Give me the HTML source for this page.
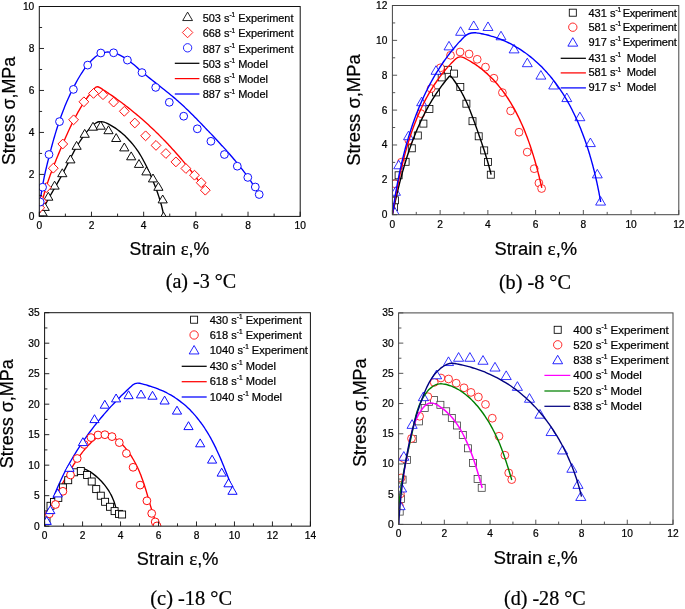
<!DOCTYPE html>
<html lang="en"><head><meta charset="utf-8"><title>Stress-strain curves</title>
<style>
html,body{margin:0;padding:0;background:#fff;}
body{width:685px;height:609px;overflow:hidden;}
svg{display:block;font-family:"Liberation Sans", Arial, Helvetica, sans-serif;}
text{stroke:#000;stroke-width:0.22px;}
</style></head><body>
<svg width="685" height="609" viewBox="0 0 685 609">
<rect width="685" height="609" fill="#fff"/>
<clipPath id="clip0"><rect x="39.3" y="6.5" width="260.9" height="209.9"/></clipPath>
<g clip-path="url(#clip0)">
<path d="M39.3,216.4 C39.51,215.95 40.15,214.58 40.58,213.67 C41.02,212.77 41.47,211.86 41.92,210.95 C42.37,210.05 42.84,209.14 43.31,208.24 C43.77,207.34 44.25,206.44 44.73,205.54 C45.22,204.63 45.71,203.73 46.2,202.84 C46.69,201.94 47.19,201.04 47.69,200.14 C48.19,199.25 48.7,198.35 49.21,197.46 C49.71,196.56 50.23,195.67 50.74,194.77 C51.25,193.88 51.76,192.99 52.28,192.1 C52.79,191.21 53.31,190.31 53.82,189.42 C54.34,188.53 54.85,187.65 55.36,186.76 C55.87,185.87 56.38,184.98 56.89,184.09 C57.4,183.21 57.9,182.32 58.4,181.43 C58.9,180.55 59.4,179.66 59.89,178.78 C60.38,177.89 60.87,177.01 61.35,176.12 C61.83,175.24 62.3,174.36 62.77,173.47 C63.24,172.59 63.7,171.71 64.15,170.82 C64.61,169.94 65.05,169.06 65.5,168.18 C65.95,167.3 66.39,166.41 66.83,165.53 C67.27,164.65 67.71,163.77 68.15,162.89 C68.59,162.01 69.03,161.13 69.47,160.25 C69.91,159.37 70.35,158.49 70.8,157.61 C71.25,156.73 71.7,155.85 72.16,154.96 C72.62,154.08 73.08,153.2 73.55,152.32 C74.03,151.44 74.5,150.56 74.99,149.68 C75.48,148.8 75.98,147.92 76.49,147.04 C77.01,146.16 77.53,145.28 78.06,144.4 C78.6,143.51 79.15,142.63 79.71,141.75 C80.28,140.87 80.86,139.99 81.46,139.1 C82.05,138.22 82.67,137.34 83.3,136.46 C83.94,135.57 84.59,134.68 85.26,133.8 C85.94,132.92 86.63,132.04 87.34,131.18 C88.05,130.32 88.78,129.46 89.53,128.65 C90.27,127.84 91.03,127.05 91.8,126.31 C92.57,125.57 93.36,124.85 94.16,124.23 C94.95,123.61 95.76,123.02 96.58,122.61 C97.39,122.2 98.22,121.93 99.05,121.77 C99.88,121.62 100.72,121.61 101.56,121.68 C102.4,121.74 103.24,121.94 104.09,122.18 C104.93,122.42 105.78,122.76 106.63,123.13 C107.48,123.5 108.32,123.94 109.17,124.39 C110.01,124.84 110.85,125.32 111.69,125.82 C112.53,126.32 113.36,126.84 114.19,127.38 C115.01,127.92 115.84,128.49 116.65,129.07 C117.47,129.66 118.28,130.26 119.08,130.88 C119.88,131.51 120.68,132.15 121.46,132.81 C122.25,133.47 123.03,134.15 123.8,134.84 C124.56,135.53 125.32,136.24 126.07,136.97 C126.82,137.7 127.55,138.44 128.28,139.19 C129,139.95 129.71,140.72 130.41,141.5 C131.11,142.28 131.8,143.08 132.47,143.89 C133.14,144.69 133.8,145.51 134.44,146.34 C135.09,147.17 135.71,148.02 136.32,148.87 C136.94,149.72 137.53,150.58 138.11,151.45 C138.69,152.31 139.25,153.19 139.8,154.08 C140.35,154.96 140.89,155.85 141.41,156.75 C141.93,157.65 142.44,158.55 142.94,159.46 C143.44,160.36 143.92,161.28 144.4,162.2 C144.88,163.11 145.34,164.03 145.8,164.96 C146.25,165.88 146.7,166.8 147.14,167.73 C147.58,168.66 148.01,169.59 148.44,170.51 C148.86,171.44 149.28,172.37 149.7,173.3 C150.11,174.22 150.52,175.15 150.92,176.08 C151.33,177 151.72,177.93 152.12,178.85 C152.51,179.77 152.9,180.7 153.28,181.62 C153.66,182.55 154.04,183.47 154.4,184.4 C154.77,185.32 155.14,186.25 155.49,187.18 C155.85,188.11 156.2,189.04 156.55,189.98 C156.89,190.91 157.23,191.85 157.55,192.79 C157.88,193.73 158.21,194.67 158.52,195.62 C158.84,196.57 159.14,197.52 159.44,198.48 C159.74,199.44 160.03,200.4 160.32,201.37 C160.6,202.33 160.87,203.31 161.14,204.29 C161.41,205.27 161.66,206.25 161.91,207.25 C162.16,208.24 162.4,209.24 162.63,210.25 C162.86,211.26 163.08,212.27 163.29,213.3 C163.51,214.32 163.8,215.88 163.9,216.4" fill="none" stroke="#000" stroke-width="1.35" stroke-linecap="butt" stroke-linejoin="round"/>
<path d="M39.3,216.4 C39.37,215.91 39.59,214.46 39.74,213.49 C39.9,212.52 40.07,211.54 40.25,210.57 C40.42,209.6 40.61,208.63 40.81,207.65 C41,206.68 41.21,205.71 41.42,204.73 C41.64,203.76 41.86,202.79 42.09,201.81 C42.32,200.84 42.56,199.87 42.81,198.89 C43.05,197.92 43.31,196.94 43.57,195.97 C43.83,195 44.1,194.02 44.38,193.05 C44.66,192.08 44.94,191.1 45.23,190.13 C45.53,189.16 45.82,188.19 46.13,187.21 C46.43,186.24 46.74,185.27 47.06,184.3 C47.38,183.33 47.7,182.36 48.03,181.39 C48.35,180.42 48.69,179.45 49.03,178.48 C49.36,177.51 49.71,176.55 50.06,175.58 C50.4,174.61 50.76,173.65 51.11,172.68 C51.47,171.72 51.83,170.75 52.2,169.79 C52.56,168.83 52.93,167.87 53.31,166.91 C53.68,165.95 54.06,164.99 54.44,164.03 C54.81,163.08 55.2,162.12 55.58,161.16 C55.97,160.21 56.36,159.26 56.75,158.31 C57.14,157.35 57.53,156.4 57.92,155.46 C58.32,154.51 58.71,153.56 59.11,152.62 C59.51,151.67 59.91,150.73 60.31,149.79 C60.71,148.85 61.11,147.91 61.51,146.97 C61.91,146.03 62.32,145.1 62.72,144.16 C63.12,143.23 63.52,142.3 63.93,141.37 C64.33,140.44 64.74,139.52 65.14,138.59 C65.55,137.67 65.96,136.75 66.36,135.83 C66.77,134.91 67.18,133.99 67.6,133.08 C68.01,132.16 68.43,131.25 68.84,130.34 C69.26,129.44 69.68,128.53 70.11,127.63 C70.54,126.72 70.96,125.82 71.4,124.92 C71.83,124.03 72.27,123.13 72.71,122.24 C73.15,121.35 73.6,120.46 74.05,119.57 C74.51,118.69 74.96,117.81 75.43,116.93 C75.89,116.05 76.36,115.17 76.84,114.3 C77.32,113.43 77.8,112.56 78.29,111.69 C78.78,110.83 79.28,109.96 79.78,109.11 C80.29,108.25 80.8,107.39 81.32,106.54 C81.84,105.69 82.37,104.84 82.91,104 C83.45,103.15 84,102.31 84.56,101.48 C85.11,100.64 85.68,99.81 86.26,98.98 C86.84,98.15 87.42,97.33 88.02,96.51 C88.62,95.69 89.23,94.87 89.85,94.06 C90.47,93.25 91.1,92.44 91.74,91.64 C92.39,90.84 93.25,89.8 93.71,89.24 C94.17,88.69 94.36,88.48 94.49,88.33 Q96.8,85.7 99.77,87.56 C100.13,87.78 101.14,88.42 101.92,88.93 C102.7,89.43 103.62,90.03 104.46,90.58 C105.3,91.13 106.15,91.69 106.99,92.25 C107.82,92.82 108.66,93.38 109.49,93.95 C110.33,94.52 111.16,95.1 111.99,95.67 C112.82,96.25 113.65,96.83 114.47,97.42 C115.29,98 116.12,98.59 116.93,99.19 C117.75,99.78 118.57,100.38 119.38,100.98 C120.2,101.58 121.01,102.18 121.82,102.79 C122.63,103.4 123.43,104.01 124.24,104.62 C125.04,105.24 125.84,105.85 126.64,106.48 C127.44,107.1 128.23,107.72 129.03,108.35 C129.82,108.98 130.61,109.62 131.4,110.25 C132.19,110.89 132.97,111.53 133.76,112.17 C134.54,112.81 135.32,113.46 136.1,114.11 C136.87,114.76 137.65,115.41 138.42,116.07 C139.19,116.72 139.96,117.38 140.73,118.05 C141.49,118.71 142.26,119.38 143.02,120.05 C143.78,120.72 144.54,121.39 145.29,122.06 C146.05,122.74 146.8,123.42 147.55,124.1 C148.3,124.78 149.05,125.47 149.79,126.16 C150.54,126.85 151.28,127.54 152.02,128.23 C152.76,128.93 153.49,129.62 154.23,130.32 C154.96,131.03 155.69,131.73 156.42,132.44 C157.14,133.14 157.87,133.85 158.59,134.56 C159.31,135.28 160.03,135.99 160.75,136.71 C161.46,137.43 162.17,138.15 162.88,138.87 C163.59,139.6 164.3,140.32 165.01,141.05 C165.71,141.78 166.41,142.51 167.11,143.25 C167.81,143.98 168.5,144.72 169.2,145.46 C169.89,146.2 170.58,146.94 171.26,147.69 C171.95,148.43 172.63,149.18 173.31,149.93 C173.99,150.68 174.67,151.44 175.35,152.19 C176.02,152.95 176.69,153.7 177.36,154.47 C178.03,155.23 178.69,155.99 179.35,156.75 C180.02,157.52 180.68,158.29 181.33,159.06 C181.99,159.83 182.64,160.6 183.29,161.38 C183.94,162.15 184.59,162.93 185.23,163.71 C185.87,164.49 186.51,165.27 187.15,166.05 C187.79,166.84 188.42,167.62 189.05,168.41 C189.68,169.2 190.31,169.99 190.94,170.78 C191.56,171.58 192.18,172.37 192.8,173.17 C193.42,173.97 194.03,174.77 194.64,175.57 C195.26,176.37 195.86,177.17 196.47,177.98 C197.07,178.78 197.68,179.59 198.27,180.4 C198.87,181.21 199.47,182.02 200.06,182.83 C200.65,183.65 201.24,184.46 201.83,185.28 C202.41,186.09 202.99,186.91 203.57,187.73 C204.15,188.55 205.01,189.79 205.3,190.2" fill="none" stroke="#f00" stroke-width="1.35" stroke-linecap="butt" stroke-linejoin="round"/>
<path d="M39.3,216.4 C39.31,215.9 39.34,214.42 39.38,213.42 C39.42,212.43 39.46,211.43 39.52,210.43 C39.58,209.43 39.64,208.43 39.72,207.43 C39.79,206.43 39.88,205.43 39.97,204.42 C40.06,203.42 40.16,202.41 40.27,201.41 C40.38,200.4 40.49,199.4 40.62,198.39 C40.74,197.38 40.88,196.37 41.02,195.37 C41.15,194.36 41.3,193.35 41.45,192.34 C41.61,191.33 41.77,190.32 41.93,189.31 C42.1,188.31 42.27,187.3 42.45,186.29 C42.63,185.28 42.81,184.27 43,183.26 C43.19,182.26 43.39,181.25 43.59,180.24 C43.79,179.24 43.99,178.23 44.2,177.23 C44.41,176.22 44.63,175.22 44.84,174.22 C45.06,173.22 45.28,172.22 45.51,171.22 C45.73,170.22 45.96,169.22 46.2,168.22 C46.43,167.23 46.66,166.23 46.9,165.24 C47.14,164.25 47.38,163.26 47.62,162.27 C47.87,161.28 48.11,160.3 48.36,159.31 C48.6,158.33 48.85,157.35 49.1,156.37 C49.35,155.39 49.6,154.42 49.86,153.45 C50.11,152.47 50.36,151.5 50.62,150.54 C50.87,149.57 51.13,148.61 51.39,147.64 C51.64,146.68 51.9,145.72 52.17,144.77 C52.43,143.81 52.69,142.85 52.96,141.9 C53.22,140.95 53.49,140 53.76,139.05 C54.04,138.1 54.31,137.15 54.59,136.21 C54.86,135.26 55.14,134.32 55.43,133.37 C55.71,132.43 56,131.49 56.29,130.55 C56.58,129.61 56.87,128.67 57.17,127.74 C57.47,126.8 57.77,125.86 58.08,124.93 C58.39,123.99 58.7,123.06 59.01,122.12 C59.33,121.19 59.65,120.26 59.98,119.32 C60.3,118.39 60.63,117.46 60.97,116.53 C61.3,115.6 61.65,114.67 61.99,113.73 C62.34,112.8 62.69,111.87 63.05,110.94 C63.41,110.01 63.77,109.08 64.14,108.15 C64.51,107.22 64.89,106.28 65.28,105.35 C65.66,104.42 66.05,103.49 66.45,102.55 C66.84,101.62 67.25,100.69 67.66,99.75 C68.07,98.82 68.49,97.88 68.92,96.94 C69.34,96.01 69.78,95.07 70.22,94.13 C70.66,93.19 71.11,92.25 71.57,91.31 C72.03,90.37 72.49,89.43 72.97,88.48 C73.44,87.54 73.93,86.59 74.42,85.65 C74.91,84.7 75.41,83.76 75.92,82.82 C76.44,81.88 76.96,80.94 77.48,80.01 C78.01,79.08 78.55,78.15 79.1,77.24 C79.65,76.32 80.21,75.4 80.78,74.5 C81.35,73.6 81.93,72.71 82.52,71.83 C83.11,70.94 83.71,70.07 84.32,69.22 C84.93,68.36 85.55,67.52 86.18,66.69 C86.82,65.86 87.46,65.05 88.12,64.25 C88.77,63.46 89.44,62.68 90.12,61.93 C90.8,61.18 91.49,60.45 92.2,59.75 C92.9,59.06 93.62,58.39 94.35,57.76 C95.08,57.14 95.83,56.55 96.59,56 C97.35,55.46 98.12,54.96 98.91,54.51 C99.7,54.07 100.5,53.67 101.32,53.34 C102.14,53 102.97,52.72 103.83,52.51 C104.68,52.3 105.55,52.15 106.43,52.07 C107.31,52 108.22,52 109.13,52.06 C110.04,52.12 110.97,52.25 111.9,52.43 C112.82,52.61 113.76,52.85 114.7,53.14 C115.63,53.43 116.57,53.78 117.51,54.16 C118.44,54.54 119.37,54.98 120.3,55.44 C121.22,55.9 122.15,56.41 123.05,56.94 C123.96,57.47 124.86,58.03 125.75,58.61 C126.63,59.19 127.5,59.8 128.36,60.42 C129.21,61.04 130.05,61.68 130.88,62.32 C131.71,62.97 132.53,63.64 133.34,64.31 C134.15,64.98 134.95,65.66 135.75,66.34 C136.54,67.02 137.33,67.71 138.12,68.4 C138.91,69.09 139.69,69.78 140.47,70.46 C141.26,71.14 142.04,71.82 142.82,72.49 C143.61,73.16 144.39,73.82 145.18,74.48 C145.96,75.14 146.75,75.79 147.54,76.44 C148.33,77.09 149.12,77.73 149.91,78.37 C150.7,79.01 151.49,79.64 152.28,80.27 C153.07,80.9 153.86,81.53 154.65,82.15 C155.43,82.78 156.22,83.4 157.01,84.02 C157.8,84.64 158.59,85.26 159.38,85.88 C160.16,86.5 160.95,87.11 161.73,87.73 C162.52,88.35 163.3,88.97 164.09,89.58 C164.87,90.2 165.65,90.82 166.43,91.45 C167.2,92.07 167.98,92.69 168.76,93.32 C169.53,93.94 170.3,94.57 171.07,95.21 C171.84,95.84 172.61,96.48 173.37,97.12 C174.14,97.76 174.9,98.4 175.66,99.06 C176.41,99.71 177.17,100.36 177.92,101.02 C178.67,101.69 179.42,102.35 180.17,103.03 C180.91,103.7 181.65,104.38 182.39,105.06 C183.13,105.74 183.87,106.43 184.61,107.12 C185.34,107.81 186.07,108.51 186.8,109.21 C187.53,109.9 188.26,110.61 188.98,111.31 C189.71,112.02 190.43,112.73 191.15,113.44 C191.87,114.15 192.59,114.87 193.31,115.59 C194.02,116.31 194.74,117.03 195.45,117.75 C196.16,118.47 196.88,119.2 197.59,119.92 C198.3,120.65 199.01,121.38 199.71,122.11 C200.42,122.84 201.13,123.57 201.83,124.3 C202.54,125.03 203.24,125.77 203.95,126.5 C204.65,127.23 205.35,127.97 206.05,128.7 C206.76,129.44 207.46,130.17 208.16,130.91 C208.86,131.64 209.56,132.38 210.26,133.11 C210.96,133.84 211.66,134.58 212.35,135.32 C213.05,136.05 213.75,136.79 214.44,137.52 C215.14,138.26 215.83,139 216.52,139.74 C217.21,140.48 217.9,141.21 218.59,141.96 C219.28,142.7 219.97,143.44 220.65,144.18 C221.34,144.92 222.02,145.67 222.7,146.41 C223.38,147.16 224.06,147.91 224.73,148.65 C225.41,149.4 226.08,150.15 226.75,150.91 C227.42,151.66 228.09,152.41 228.76,153.17 C229.42,153.93 230.09,154.68 230.75,155.44 C231.4,156.21 232.06,156.97 232.71,157.73 C233.37,158.5 234.02,159.27 234.66,160.04 C235.31,160.81 235.95,161.58 236.59,162.36 C237.23,163.13 237.87,163.91 238.5,164.69 C239.13,165.48 239.76,166.26 240.38,167.05 C241.01,167.84 241.63,168.63 242.24,169.42 C242.86,170.22 243.47,171.02 244.08,171.82 C244.68,172.62 245.28,173.43 245.88,174.24 C246.48,175.05 247.07,175.86 247.66,176.68 C248.25,177.49 248.83,178.32 249.41,179.14 C249.98,179.97 250.56,180.8 251.12,181.63 C251.69,182.47 252.25,183.3 252.81,184.15 C253.36,184.99 253.92,185.84 254.46,186.69 C255,187.54 255.54,188.4 256.08,189.26 C256.61,190.13 257.14,190.99 257.66,191.87 C258.18,192.74 258.94,194.06 259.2,194.5" fill="none" stroke="#00f" stroke-width="1.35" stroke-linecap="butt" stroke-linejoin="round"/>
<path d="M42.6,208 L47.2,215.9 L38,215.9 Z" fill="#fff" stroke="#000" stroke-width="0.95" stroke-linejoin="miter"/>
<path d="M44.7,202.5 L49.3,210.4 L40.1,210.4 Z" fill="#fff" stroke="#000" stroke-width="0.95" stroke-linejoin="miter"/>
<path d="M48.3,192.3 L52.9,200.2 L43.7,200.2 Z" fill="#fff" stroke="#000" stroke-width="0.95" stroke-linejoin="miter"/>
<path d="M54.6,181.2 L59.2,189.1 L50,189.1 Z" fill="#fff" stroke="#000" stroke-width="0.95" stroke-linejoin="miter"/>
<path d="M62.3,168.8 L66.9,176.7 L57.7,176.7 Z" fill="#fff" stroke="#000" stroke-width="0.95" stroke-linejoin="miter"/>
<path d="M70.4,155 L75,162.9 L65.8,162.9 Z" fill="#fff" stroke="#000" stroke-width="0.95" stroke-linejoin="miter"/>
<path d="M76.6,141.4 L81.2,149.3 L72,149.3 Z" fill="#fff" stroke="#000" stroke-width="0.95" stroke-linejoin="miter"/>
<path d="M84.7,129.4 L89.3,137.3 L80.1,137.3 Z" fill="#fff" stroke="#000" stroke-width="0.95" stroke-linejoin="miter"/>
<path d="M93,122.3 L97.6,130.2 L88.4,130.2 Z" fill="#fff" stroke="#000" stroke-width="0.95" stroke-linejoin="miter"/>
<path d="M100.7,121.3 L105.3,129.2 L96.1,129.2 Z" fill="#fff" stroke="#000" stroke-width="0.95" stroke-linejoin="miter"/>
<path d="M108.5,125.8 L113.1,133.7 L103.9,133.7 Z" fill="#fff" stroke="#000" stroke-width="0.95" stroke-linejoin="miter"/>
<path d="M116.2,133.6 L120.8,141.5 L111.6,141.5 Z" fill="#fff" stroke="#000" stroke-width="0.95" stroke-linejoin="miter"/>
<path d="M124.3,143 L128.9,150.9 L119.7,150.9 Z" fill="#fff" stroke="#000" stroke-width="0.95" stroke-linejoin="miter"/>
<path d="M131.2,151.9 L135.8,159.8 L126.6,159.8 Z" fill="#fff" stroke="#000" stroke-width="0.95" stroke-linejoin="miter"/>
<path d="M139,159.5 L143.6,167.4 L134.4,167.4 Z" fill="#fff" stroke="#000" stroke-width="0.95" stroke-linejoin="miter"/>
<path d="M146.4,167 L151,174.9 L141.8,174.9 Z" fill="#fff" stroke="#000" stroke-width="0.95" stroke-linejoin="miter"/>
<path d="M153,174 L157.6,181.9 L148.4,181.9 Z" fill="#fff" stroke="#000" stroke-width="0.95" stroke-linejoin="miter"/>
<path d="M158.4,182.4 L163,190.3 L153.8,190.3 Z" fill="#fff" stroke="#000" stroke-width="0.95" stroke-linejoin="miter"/>
<path d="M162.7,195 L167.3,202.9 L158.1,202.9 Z" fill="#fff" stroke="#000" stroke-width="0.95" stroke-linejoin="miter"/>
<path d="M163.5,212.1 L168.1,220 L158.9,220 Z" fill="#fff" stroke="#000" stroke-width="0.95" stroke-linejoin="miter"/>
<path d="M39.7,202.9 L44.6,207.8 L39.7,212.7 L34.8,207.8 Z" fill="#fff" stroke="#f00" stroke-width="0.95"/>
<path d="M41.8,196.3 L46.7,201.2 L41.8,206.1 L36.9,201.2 Z" fill="#fff" stroke="#f00" stroke-width="0.95"/>
<path d="M46.3,182.7 L51.2,187.6 L46.3,192.5 L41.4,187.6 Z" fill="#fff" stroke="#f00" stroke-width="0.95"/>
<path d="M53.3,163.3 L58.2,168.2 L53.3,173.1 L48.4,168.2 Z" fill="#fff" stroke="#f00" stroke-width="0.95"/>
<path d="M62.8,139.1 L67.7,144 L62.8,148.9 L57.9,144 Z" fill="#fff" stroke="#f00" stroke-width="0.95"/>
<path d="M73.6,114.9 L78.5,119.8 L73.6,124.7 L68.7,119.8 Z" fill="#fff" stroke="#f00" stroke-width="0.95"/>
<path d="M83.9,96.9 L88.8,101.8 L83.9,106.7 L79,101.8 Z" fill="#fff" stroke="#f00" stroke-width="0.95"/>
<path d="M93.5,88.5 L98.4,93.4 L93.5,98.3 L88.6,93.4 Z" fill="#fff" stroke="#f00" stroke-width="0.95"/>
<path d="M103,89.8 L107.9,94.7 L103,99.6 L98.1,94.7 Z" fill="#fff" stroke="#f00" stroke-width="0.95"/>
<path d="M113.6,97.2 L118.5,102.1 L113.6,107 L108.7,102.1 Z" fill="#fff" stroke="#f00" stroke-width="0.95"/>
<path d="M124.3,106.4 L129.2,111.3 L124.3,116.2 L119.4,111.3 Z" fill="#fff" stroke="#f00" stroke-width="0.95"/>
<path d="M134.8,118.1 L139.7,123 L134.8,127.9 L129.9,123 Z" fill="#fff" stroke="#f00" stroke-width="0.95"/>
<path d="M145.6,130.9 L150.5,135.8 L145.6,140.7 L140.7,135.8 Z" fill="#fff" stroke="#f00" stroke-width="0.95"/>
<path d="M156,140.5 L160.9,145.4 L156,150.3 L151.1,145.4 Z" fill="#fff" stroke="#f00" stroke-width="0.95"/>
<path d="M165.9,148.6 L170.8,153.5 L165.9,158.4 L161,153.5 Z" fill="#fff" stroke="#f00" stroke-width="0.95"/>
<path d="M175.9,157 L180.8,161.9 L175.9,166.8 L171,161.9 Z" fill="#fff" stroke="#f00" stroke-width="0.95"/>
<path d="M185.9,163.6 L190.8,168.5 L185.9,173.4 L181,168.5 Z" fill="#fff" stroke="#f00" stroke-width="0.95"/>
<path d="M194.5,170.3 L199.4,175.2 L194.5,180.1 L189.6,175.2 Z" fill="#fff" stroke="#f00" stroke-width="0.95"/>
<path d="M201.2,177.8 L206.1,182.7 L201.2,187.6 L196.3,182.7 Z" fill="#fff" stroke="#f00" stroke-width="0.95"/>
<path d="M205.3,185.3 L210.2,190.2 L205.3,195.1 L200.4,190.2 Z" fill="#fff" stroke="#f00" stroke-width="0.95"/>
<circle cx="40.2" cy="202" r="3.9" fill="#fff" stroke="#00f" stroke-width="0.95"/>
<circle cx="42.6" cy="187.2" r="3.9" fill="#fff" stroke="#00f" stroke-width="0.95"/>
<circle cx="49" cy="154.5" r="3.9" fill="#fff" stroke="#00f" stroke-width="0.95"/>
<circle cx="59.5" cy="121.6" r="3.9" fill="#fff" stroke="#00f" stroke-width="0.95"/>
<circle cx="73.4" cy="89.4" r="3.9" fill="#fff" stroke="#00f" stroke-width="0.95"/>
<circle cx="87.7" cy="65.1" r="3.9" fill="#fff" stroke="#00f" stroke-width="0.95"/>
<circle cx="100.8" cy="53" r="3.9" fill="#fff" stroke="#00f" stroke-width="0.95"/>
<circle cx="113.6" cy="52.8" r="3.9" fill="#fff" stroke="#00f" stroke-width="0.95"/>
<circle cx="127.4" cy="60.1" r="3.9" fill="#fff" stroke="#00f" stroke-width="0.95"/>
<circle cx="142" cy="72.6" r="3.9" fill="#fff" stroke="#00f" stroke-width="0.95"/>
<circle cx="155.7" cy="87.4" r="3.9" fill="#fff" stroke="#00f" stroke-width="0.95"/>
<circle cx="169.3" cy="102.3" r="3.9" fill="#fff" stroke="#00f" stroke-width="0.95"/>
<circle cx="183.7" cy="116.2" r="3.9" fill="#fff" stroke="#00f" stroke-width="0.95"/>
<circle cx="197.3" cy="128.8" r="3.9" fill="#fff" stroke="#00f" stroke-width="0.95"/>
<circle cx="210.9" cy="141.3" r="3.9" fill="#fff" stroke="#00f" stroke-width="0.95"/>
<circle cx="224.4" cy="154.5" r="3.9" fill="#fff" stroke="#00f" stroke-width="0.95"/>
<circle cx="237.3" cy="166.2" r="3.9" fill="#fff" stroke="#00f" stroke-width="0.95"/>
<circle cx="247.8" cy="177.4" r="3.9" fill="#fff" stroke="#00f" stroke-width="0.95"/>
<circle cx="255.3" cy="187" r="3.9" fill="#fff" stroke="#00f" stroke-width="0.95"/>
<circle cx="259.2" cy="194.5" r="3.9" fill="#fff" stroke="#00f" stroke-width="0.95"/>
</g>
<rect x="39.3" y="6.5" width="260.9" height="209.9" fill="none" stroke="#111" stroke-width="1"/>
<path d="M39.3,216.4 v-4.7 M65.39,216.4 v-2.8 M91.48,216.4 v-4.7 M117.57,216.4 v-2.8 M143.66,216.4 v-4.7 M169.75,216.4 v-2.8 M195.84,216.4 v-4.7 M221.93,216.4 v-2.8 M248.02,216.4 v-4.7 M274.11,216.4 v-2.8 M300.2,216.4 v-4.7 M39.3,216.4 h4.7 M39.3,195.41 h2.8 M39.3,174.42 h4.7 M39.3,153.43 h2.8 M39.3,132.44 h4.7 M39.3,111.45 h2.8 M39.3,90.46 h4.7 M39.3,69.47 h2.8 M39.3,48.48 h4.7 M39.3,27.49 h2.8 M39.3,6.5 h4.7" stroke="#111" stroke-width="0.9" fill="none"/>
<g font-size="10.2" fill="#000">
<text x="39.3" y="229.3" text-anchor="middle">0</text>
<text x="91.48" y="229.3" text-anchor="middle">2</text>
<text x="143.66" y="229.3" text-anchor="middle">4</text>
<text x="195.84" y="229.3" text-anchor="middle">6</text>
<text x="248.02" y="229.3" text-anchor="middle">8</text>
<text x="300.2" y="229.3" text-anchor="middle">10</text>
<text x="34.3" y="219.8" text-anchor="end">0</text>
<text x="34.3" y="177.82" text-anchor="end">2</text>
<text x="34.3" y="135.84" text-anchor="end">4</text>
<text x="34.3" y="93.86" text-anchor="end">6</text>
<text x="34.3" y="51.88" text-anchor="end">8</text>
<text x="34.3" y="9.9" text-anchor="end">10</text>
</g>
<text x="169.4" y="254.6" font-size="17.7" text-anchor="middle">Strain <tspan font-family='"Liberation Serif", "Times New Roman", serif' font-size="18.59">ε</tspan>,%</text>
<text transform="translate(15.2,111) rotate(-90)" font-size="17.85" text-anchor="middle">Stress σ,MPa</text>
<text x="201" y="288.4" font-size="20.1" font-family='"Liberation Serif", "Times New Roman", serif' text-anchor="middle">(a) -3 °C</text>
<g fill="#000">
<path d="M187.6,12.1 L192.52,20.55 L182.68,20.55 Z" fill="#fff" stroke="#000" stroke-width="0.85" stroke-linejoin="miter"/>
<text x="202.7" y="21.54" font-size="10.95">503 s<tspan dy="-4.82" font-size="6.35">-1</tspan><tspan dy="4.82"> Experiment</tspan></text>
<path d="M187.6,27.26 L192.84,32.5 L187.6,37.74 L182.36,32.5 Z" fill="#fff" stroke="#f00" stroke-width="0.85"/>
<text x="202.7" y="37.34" font-size="10.95">668 s<tspan dy="-4.82" font-size="6.35">-1</tspan><tspan dy="4.82"> Experiment</tspan></text>
<circle cx="187.6" cy="47.8" r="4.17" fill="#fff" stroke="#00f" stroke-width="0.85"/>
<text x="202.7" y="52.64" font-size="10.95">887 s<tspan dy="-4.82" font-size="6.35">-1</tspan><tspan dy="4.82"> Experiment</tspan></text>
<path d="M174.8,63.3 H199.4" stroke="#000" stroke-width="1.25"/>
<text x="202.7" y="67.74" font-size="10.95">503 s<tspan dy="-4.82" font-size="6.35">-1</tspan><tspan dy="4.82"> Model</tspan></text>
<path d="M174.8,78.6 H199.4" stroke="#f00" stroke-width="1.25"/>
<text x="202.7" y="83.04" font-size="10.95">668 s<tspan dy="-4.82" font-size="6.35">-1</tspan><tspan dy="4.82"> Model</tspan></text>
<path d="M174.8,94 H199.4" stroke="#00f" stroke-width="1.25"/>
<text x="202.7" y="98.44" font-size="10.95">887 s<tspan dy="-4.82" font-size="6.35">-1</tspan><tspan dy="4.82"> Model</tspan></text>
</g>
<clipPath id="clip1"><rect x="392.4" y="5.5" width="286.4" height="209.2"/></clipPath>
<g clip-path="url(#clip1)">
<rect x="390.6" y="203.4" width="7" height="7" fill="#fff" stroke="#000" stroke-width="0.8"/>
<rect x="391.4" y="196.8" width="7" height="7" fill="#fff" stroke="#000" stroke-width="0.8"/>
<rect x="395.1" y="171.8" width="7" height="7" fill="#fff" stroke="#000" stroke-width="0.8"/>
<rect x="402.1" y="158.3" width="7" height="7" fill="#fff" stroke="#000" stroke-width="0.8"/>
<rect x="408.3" y="144.8" width="7" height="7" fill="#fff" stroke="#000" stroke-width="0.8"/>
<rect x="414.3" y="132" width="7" height="7" fill="#fff" stroke="#000" stroke-width="0.8"/>
<rect x="419.9" y="120.1" width="7" height="7" fill="#fff" stroke="#000" stroke-width="0.8"/>
<rect x="425.9" y="105.4" width="7" height="7" fill="#fff" stroke="#000" stroke-width="0.8"/>
<rect x="432.5" y="88.9" width="7" height="7" fill="#fff" stroke="#000" stroke-width="0.8"/>
<rect x="438.2" y="73.9" width="7" height="7" fill="#fff" stroke="#000" stroke-width="0.8"/>
<rect x="444.5" y="66.3" width="7" height="7" fill="#fff" stroke="#000" stroke-width="0.8"/>
<rect x="450.5" y="70.1" width="7" height="7" fill="#fff" stroke="#000" stroke-width="0.8"/>
<rect x="456.8" y="83.5" width="7" height="7" fill="#fff" stroke="#000" stroke-width="0.8"/>
<rect x="462.9" y="100.2" width="7" height="7" fill="#fff" stroke="#000" stroke-width="0.8"/>
<rect x="469" y="117.7" width="7" height="7" fill="#fff" stroke="#000" stroke-width="0.8"/>
<rect x="475.2" y="132.8" width="7" height="7" fill="#fff" stroke="#000" stroke-width="0.8"/>
<rect x="480.7" y="146.9" width="7" height="7" fill="#fff" stroke="#000" stroke-width="0.8"/>
<rect x="484.5" y="158.4" width="7" height="7" fill="#fff" stroke="#000" stroke-width="0.8"/>
<rect x="487.3" y="171.2" width="7" height="7" fill="#fff" stroke="#000" stroke-width="0.8"/>
<circle cx="394.9" cy="183.8" r="3.9" fill="#fff" stroke="#f00" stroke-width="0.8"/>
<circle cx="401.4" cy="162.2" r="3.9" fill="#fff" stroke="#f00" stroke-width="0.8"/>
<circle cx="408.8" cy="140.2" r="3.9" fill="#fff" stroke="#f00" stroke-width="0.8"/>
<circle cx="420.9" cy="113.6" r="3.9" fill="#fff" stroke="#f00" stroke-width="0.8"/>
<circle cx="431.1" cy="88.6" r="3.9" fill="#fff" stroke="#f00" stroke-width="0.8"/>
<circle cx="440.5" cy="67.8" r="3.9" fill="#fff" stroke="#f00" stroke-width="0.8"/>
<circle cx="450.5" cy="55.3" r="3.9" fill="#fff" stroke="#f00" stroke-width="0.8"/>
<circle cx="460.1" cy="52" r="3.9" fill="#fff" stroke="#f00" stroke-width="0.8"/>
<circle cx="469.1" cy="54" r="3.9" fill="#fff" stroke="#f00" stroke-width="0.8"/>
<circle cx="477.2" cy="59.3" r="3.9" fill="#fff" stroke="#f00" stroke-width="0.8"/>
<circle cx="485.5" cy="67.1" r="3.9" fill="#fff" stroke="#f00" stroke-width="0.8"/>
<circle cx="493.9" cy="78.2" r="3.9" fill="#fff" stroke="#f00" stroke-width="0.8"/>
<circle cx="502.4" cy="92.6" r="3.9" fill="#fff" stroke="#f00" stroke-width="0.8"/>
<circle cx="510.6" cy="110.9" r="3.9" fill="#fff" stroke="#f00" stroke-width="0.8"/>
<circle cx="519" cy="132.2" r="3.9" fill="#fff" stroke="#f00" stroke-width="0.8"/>
<circle cx="527.2" cy="152.1" r="3.9" fill="#fff" stroke="#f00" stroke-width="0.8"/>
<circle cx="534.2" cy="168.7" r="3.9" fill="#fff" stroke="#f00" stroke-width="0.8"/>
<circle cx="538.9" cy="183" r="3.9" fill="#fff" stroke="#f00" stroke-width="0.8"/>
<circle cx="541.6" cy="188.5" r="3.9" fill="#fff" stroke="#f00" stroke-width="0.8"/>
<path d="M394.9,207.46 L399.87,215.99 L389.93,215.99 Z" fill="#fff" stroke="#00f" stroke-width="0.8" stroke-linejoin="miter"/>
<path d="M395.5,186.76 L400.47,195.29 L390.53,195.29 Z" fill="#fff" stroke="#00f" stroke-width="0.8" stroke-linejoin="miter"/>
<path d="M398.7,160.26 L403.67,168.79 L393.73,168.79 Z" fill="#fff" stroke="#00f" stroke-width="0.8" stroke-linejoin="miter"/>
<path d="M408.5,131.16 L413.47,139.69 L403.53,139.69 Z" fill="#fff" stroke="#00f" stroke-width="0.8" stroke-linejoin="miter"/>
<path d="M421.6,97.16 L426.57,105.69 L416.63,105.69 Z" fill="#fff" stroke="#00f" stroke-width="0.8" stroke-linejoin="miter"/>
<path d="M436,65.76 L440.97,74.29 L431.03,74.29 Z" fill="#fff" stroke="#00f" stroke-width="0.8" stroke-linejoin="miter"/>
<path d="M449,41.36 L453.97,49.89 L444.03,49.89 Z" fill="#fff" stroke="#00f" stroke-width="0.8" stroke-linejoin="miter"/>
<path d="M460.6,26.76 L465.57,35.29 L455.63,35.29 Z" fill="#fff" stroke="#00f" stroke-width="0.8" stroke-linejoin="miter"/>
<path d="M473.7,20.96 L478.67,29.49 L468.73,29.49 Z" fill="#fff" stroke="#00f" stroke-width="0.8" stroke-linejoin="miter"/>
<path d="M488,21.96 L492.97,30.49 L483.03,30.49 Z" fill="#fff" stroke="#00f" stroke-width="0.8" stroke-linejoin="miter"/>
<path d="M501,31.26 L505.97,39.79 L496.03,39.79 Z" fill="#fff" stroke="#00f" stroke-width="0.8" stroke-linejoin="miter"/>
<path d="M514.1,44.36 L519.07,52.89 L509.13,52.89 Z" fill="#fff" stroke="#00f" stroke-width="0.8" stroke-linejoin="miter"/>
<path d="M527.3,58.16 L532.27,66.69 L522.33,66.69 Z" fill="#fff" stroke="#00f" stroke-width="0.8" stroke-linejoin="miter"/>
<path d="M540.9,70.56 L545.87,79.09 L535.93,79.09 Z" fill="#fff" stroke="#00f" stroke-width="0.8" stroke-linejoin="miter"/>
<path d="M553.7,80.46 L558.67,88.99 L548.73,88.99 Z" fill="#fff" stroke="#00f" stroke-width="0.8" stroke-linejoin="miter"/>
<path d="M566.8,93.06 L571.77,101.59 L561.83,101.59 Z" fill="#fff" stroke="#00f" stroke-width="0.8" stroke-linejoin="miter"/>
<path d="M579.9,112.16 L584.87,120.69 L574.93,120.69 Z" fill="#fff" stroke="#00f" stroke-width="0.8" stroke-linejoin="miter"/>
<path d="M590.4,138.06 L595.37,146.59 L585.43,146.59 Z" fill="#fff" stroke="#00f" stroke-width="0.8" stroke-linejoin="miter"/>
<path d="M597.3,169.36 L602.27,177.89 L592.33,177.89 Z" fill="#fff" stroke="#00f" stroke-width="0.8" stroke-linejoin="miter"/>
<path d="M600.6,196.56 L605.57,205.09 L595.63,205.09 Z" fill="#fff" stroke="#00f" stroke-width="0.8" stroke-linejoin="miter"/>
<path d="M392.4,214.7 C392.5,214.21 392.81,212.74 393.02,211.76 C393.22,210.78 393.43,209.79 393.64,208.81 C393.85,207.83 394.06,206.84 394.28,205.86 C394.49,204.87 394.71,203.88 394.93,202.9 C395.14,201.91 395.36,200.92 395.59,199.94 C395.81,198.95 396.03,197.96 396.26,196.97 C396.48,195.98 396.71,194.99 396.94,194 C397.17,193.01 397.41,192.02 397.64,191.04 C397.88,190.05 398.12,189.06 398.36,188.07 C398.6,187.08 398.84,186.09 399.09,185.1 C399.34,184.11 399.58,183.12 399.84,182.13 C400.09,181.14 400.34,180.15 400.6,179.16 C400.86,178.18 401.12,177.19 401.38,176.2 C401.65,175.21 401.92,174.23 402.19,173.24 C402.46,172.25 402.73,171.27 403.01,170.28 C403.28,169.3 403.57,168.32 403.85,167.33 C404.13,166.35 404.42,165.37 404.71,164.39 C405,163.41 405.3,162.43 405.6,161.45 C405.9,160.47 406.2,159.49 406.5,158.52 C406.81,157.54 407.12,156.57 407.44,155.59 C407.75,154.62 408.07,153.65 408.39,152.68 C408.71,151.71 409.04,150.74 409.37,149.77 C409.7,148.8 410.04,147.84 410.38,146.87 C410.72,145.91 411.06,144.95 411.41,143.99 C411.76,143.03 412.11,142.07 412.47,141.12 C412.83,140.16 413.19,139.21 413.56,138.26 C413.93,137.31 414.3,136.36 414.68,135.41 C415.05,134.46 415.44,133.52 415.82,132.58 C416.21,131.64 416.6,130.7 417,129.76 C417.4,128.82 417.8,127.89 418.21,126.96 C418.62,126.03 419.03,125.1 419.45,124.17 C419.87,123.25 420.29,122.32 420.72,121.4 C421.15,120.48 421.59,119.57 422.03,118.65 C422.47,117.74 422.92,116.83 423.37,115.92 C423.82,115.01 424.28,114.11 424.74,113.21 C425.21,112.31 425.68,111.41 426.15,110.52 C426.63,109.62 427.11,108.73 427.6,107.85 C428.09,106.96 428.59,106.08 429.09,105.2 C429.59,104.32 430.1,103.44 430.61,102.57 C431.13,101.7 431.65,100.83 432.17,99.97 C432.7,99.1 433.23,98.24 433.77,97.39 C434.32,96.53 434.86,95.68 435.42,94.84 C435.97,93.99 436.53,93.15 437.1,92.31 C437.67,91.47 438.24,90.64 438.83,89.81 C439.41,88.98 440,88.15 440.59,87.33 C441.19,86.51 441.79,85.7 442.4,84.89 C443.02,84.08 443.63,83.27 444.26,82.47 C444.89,81.67 445.52,80.87 446.16,80.08 C446.8,79.29 447.61,78.32 448.11,77.73 C448.6,77.13 448.95,76.73 449.12,76.53 Q450.1,75.4 451.05,76.56 C451.22,76.77 451.57,77.19 452.05,77.81 C452.52,78.42 453.3,79.43 453.91,80.25 C454.51,81.07 455.1,81.9 455.67,82.74 C456.25,83.57 456.81,84.41 457.35,85.26 C457.9,86.1 458.44,86.96 458.96,87.81 C459.48,88.67 459.99,89.54 460.49,90.41 C460.99,91.27 461.47,92.15 461.95,93.03 C462.43,93.91 462.89,94.79 463.35,95.68 C463.81,96.57 464.25,97.47 464.69,98.37 C465.13,99.27 465.55,100.17 465.97,101.08 C466.4,101.99 466.81,102.9 467.21,103.82 C467.62,104.73 468.01,105.65 468.41,106.58 C468.8,107.5 469.18,108.43 469.56,109.36 C469.94,110.29 470.31,111.23 470.68,112.17 C471.05,113.11 471.42,114.05 471.78,114.99 C472.14,115.94 472.49,116.88 472.85,117.83 C473.2,118.79 473.55,119.74 473.9,120.69 C474.25,121.65 474.59,122.61 474.94,123.57 C475.28,124.53 475.63,125.49 475.97,126.46 C476.31,127.42 476.65,128.39 477,129.36 C477.34,130.32 477.68,131.29 478.02,132.27 C478.36,133.24 478.7,134.21 479.04,135.18 C479.38,136.16 479.72,137.13 480.06,138.11 C480.39,139.08 480.73,140.06 481.06,141.04 C481.39,142.02 481.73,142.99 482.05,143.97 C482.38,144.95 482.71,145.93 483.03,146.91 C483.36,147.89 483.68,148.87 483.99,149.84 C484.31,150.82 484.62,151.8 484.93,152.78 C485.24,153.76 485.55,154.74 485.85,155.71 C486.16,156.69 486.45,157.67 486.75,158.64 C487.04,159.62 487.33,160.59 487.61,161.56 C487.9,162.54 488.18,163.51 488.45,164.48 C488.72,165.45 488.99,166.42 489.25,167.38 C489.51,168.35 489.77,169.32 490.02,170.28 C490.27,171.24 490.57,172.44 490.75,173.16 C490.93,173.88 491.04,174.36 491.1,174.6" fill="none" stroke="#000" stroke-width="1.4" stroke-linecap="butt" stroke-linejoin="round"/>
<path d="M392.4,214.7 C392.48,214.21 392.72,212.76 392.89,211.79 C393.05,210.82 393.22,209.84 393.39,208.87 C393.55,207.89 393.72,206.91 393.89,205.93 C394.06,204.95 394.23,203.97 394.41,202.99 C394.58,202.01 394.75,201.02 394.93,200.04 C395.11,199.05 395.29,198.06 395.47,197.08 C395.65,196.09 395.83,195.1 396.02,194.11 C396.2,193.12 396.39,192.13 396.58,191.14 C396.77,190.14 396.96,189.15 397.15,188.16 C397.34,187.16 397.54,186.17 397.74,185.17 C397.94,184.18 398.14,183.18 398.34,182.19 C398.55,181.19 398.75,180.2 398.96,179.2 C399.17,178.2 399.38,177.21 399.6,176.21 C399.81,175.21 400.03,174.22 400.25,173.22 C400.47,172.22 400.7,171.23 400.92,170.23 C401.15,169.24 401.38,168.24 401.62,167.24 C401.85,166.25 402.09,165.25 402.33,164.26 C402.57,163.26 402.81,162.27 403.06,161.28 C403.31,160.28 403.56,159.29 403.81,158.3 C404.07,157.31 404.33,156.32 404.59,155.33 C404.86,154.34 405.12,153.35 405.39,152.36 C405.66,151.37 405.94,150.39 406.22,149.4 C406.5,148.42 406.78,147.43 407.07,146.45 C407.36,145.47 407.65,144.49 407.95,143.51 C408.24,142.53 408.54,141.55 408.85,140.58 C409.15,139.6 409.47,138.63 409.78,137.65 C410.1,136.68 410.42,135.71 410.74,134.75 C411.06,133.78 411.39,132.81 411.73,131.85 C412.06,130.89 412.4,129.93 412.75,128.97 C413.09,128.01 413.44,127.05 413.8,126.1 C414.15,125.15 414.51,124.2 414.88,123.25 C415.25,122.3 415.62,121.35 416,120.41 C416.37,119.47 416.75,118.53 417.14,117.59 C417.53,116.66 417.93,115.72 418.33,114.79 C418.73,113.86 419.13,112.94 419.54,112.01 C419.96,111.09 420.37,110.17 420.8,109.25 C421.22,108.34 421.65,107.42 422.09,106.52 C422.53,105.61 422.97,104.7 423.42,103.8 C423.87,102.9 424.32,102 424.78,101.11 C425.25,100.21 425.72,99.32 426.19,98.44 C426.67,97.55 427.15,96.67 427.64,95.79 C428.13,94.92 428.62,94.04 429.13,93.18 C429.63,92.31 430.14,91.44 430.66,90.58 C431.17,89.73 431.7,88.87 432.23,88.02 C432.76,87.17 433.3,86.33 433.84,85.49 C434.39,84.65 434.94,83.81 435.51,82.98 C436.07,82.15 436.63,81.33 437.21,80.51 C437.79,79.69 438.37,78.88 438.96,78.07 C439.55,77.26 440.15,76.46 440.76,75.66 C441.37,74.86 441.98,74.07 442.61,73.28 C443.23,72.5 443.86,71.72 444.5,70.94 C445.14,70.17 445.79,69.4 446.45,68.64 C447.1,67.87 447.77,67.12 448.44,66.37 C449.12,65.62 449.8,64.87 450.49,64.13 C451.18,63.4 451.88,62.67 452.59,61.94 C453.29,61.22 454.24,60.28 454.74,59.79 C455.23,59.3 455.41,59.14 455.54,59.01 Q459.2,55.6 463.73,57.71 C464.15,57.92 465.39,58.54 466.26,59 C467.13,59.46 468.07,59.98 468.97,60.49 C469.86,61 470.74,61.52 471.61,62.06 C472.48,62.59 473.34,63.14 474.19,63.69 C475.04,64.25 475.88,64.82 476.71,65.4 C477.54,65.98 478.36,66.57 479.17,67.17 C479.98,67.77 480.78,68.38 481.57,69.01 C482.35,69.63 483.13,70.26 483.9,70.91 C484.67,71.55 485.43,72.21 486.18,72.87 C486.93,73.54 487.67,74.21 488.4,74.89 C489.13,75.58 489.86,76.27 490.57,76.97 C491.28,77.68 491.98,78.39 492.68,79.11 C493.37,79.83 494.05,80.56 494.73,81.3 C495.41,82.04 496.07,82.79 496.73,83.54 C497.39,84.3 498.04,85.06 498.68,85.84 C499.32,86.61 499.95,87.39 500.57,88.18 C501.2,88.97 501.81,89.76 502.42,90.57 C503.02,91.37 503.62,92.18 504.21,93 C504.8,93.82 505.38,94.65 505.96,95.48 C506.53,96.31 507.1,97.15 507.65,98 C508.21,98.84 508.76,99.69 509.3,100.55 C509.84,101.41 510.38,102.28 510.91,103.15 C511.43,104.02 511.95,104.9 512.46,105.78 C512.98,106.66 513.48,107.55 513.98,108.44 C514.47,109.34 514.96,110.24 515.45,111.14 C515.93,112.04 516.41,112.95 516.87,113.87 C517.34,114.78 517.8,115.7 518.26,116.62 C518.71,117.54 519.16,118.47 519.6,119.4 C520.05,120.33 520.48,121.27 520.91,122.21 C521.34,123.14 521.76,124.09 522.18,125.03 C522.59,125.98 523,126.93 523.4,127.88 C523.81,128.84 524.21,129.79 524.6,130.75 C524.99,131.71 525.37,132.67 525.75,133.64 C526.13,134.6 526.5,135.57 526.87,136.54 C527.24,137.5 527.6,138.48 527.96,139.45 C528.32,140.42 528.67,141.4 529.01,142.37 C529.36,143.35 529.7,144.33 530.03,145.31 C530.37,146.29 530.7,147.27 531.02,148.25 C531.35,149.23 531.67,150.22 531.98,151.2 C532.3,152.18 532.61,153.17 532.91,154.15 C533.22,155.14 533.52,156.12 533.81,157.11 C534.11,158.09 534.4,159.08 534.69,160.06 C534.98,161.05 535.26,162.03 535.54,163.01 C535.81,164 536.09,164.98 536.36,165.97 C536.63,166.95 536.89,167.93 537.16,168.91 C537.42,169.89 537.67,170.87 537.93,171.85 C538.18,172.83 538.43,173.8 538.68,174.78 C538.93,175.75 539.17,176.73 539.41,177.7 C539.65,178.67 539.88,179.64 540.12,180.6 C540.35,181.57 540.58,182.53 540.8,183.49 C541.03,184.45 541.31,185.65 541.47,186.37 C541.64,187.09 541.75,187.56 541.8,187.8" fill="none" stroke="#f00" stroke-width="1.4" stroke-linecap="butt" stroke-linejoin="round"/>
<path d="M392.4,214.7 C392.47,214.21 392.67,212.73 392.81,211.75 C392.95,210.76 393.09,209.78 393.23,208.79 C393.37,207.81 393.52,206.82 393.66,205.83 C393.81,204.84 393.96,203.85 394.11,202.86 C394.26,201.87 394.42,200.88 394.58,199.89 C394.73,198.9 394.89,197.9 395.05,196.91 C395.22,195.92 395.38,194.92 395.55,193.93 C395.71,192.93 395.88,191.94 396.06,190.94 C396.23,189.95 396.4,188.95 396.58,187.96 C396.76,186.96 396.94,185.97 397.13,184.97 C397.31,183.97 397.5,182.98 397.69,181.98 C397.87,180.99 398.07,179.99 398.26,178.99 C398.46,178 398.66,177 398.86,176 C399.06,175.01 399.26,174.01 399.47,173.01 C399.68,172.02 399.89,171.02 400.11,170.03 C400.32,169.03 400.54,168.03 400.76,167.04 C400.98,166.04 401.2,165.05 401.43,164.06 C401.66,163.06 401.89,162.07 402.12,161.08 C402.36,160.08 402.6,159.09 402.84,158.1 C403.08,157.11 403.32,156.12 403.57,155.13 C403.82,154.14 404.07,153.15 404.33,152.16 C404.58,151.17 404.84,150.18 405.11,149.19 C405.37,148.21 405.64,147.22 405.91,146.24 C406.18,145.25 406.45,144.27 406.73,143.29 C407.01,142.31 407.29,141.32 407.58,140.34 C407.86,139.37 408.15,138.39 408.45,137.41 C408.74,136.43 409.04,135.46 409.34,134.48 C409.65,133.51 409.95,132.54 410.26,131.56 C410.57,130.59 410.89,129.62 411.21,128.66 C411.53,127.69 411.85,126.72 412.18,125.76 C412.51,124.79 412.84,123.83 413.18,122.87 C413.51,121.91 413.85,120.95 414.2,119.99 C414.55,119.04 414.9,118.08 415.25,117.13 C415.6,116.18 415.96,115.23 416.33,114.28 C416.69,113.33 417.06,112.38 417.43,111.44 C417.81,110.49 418.18,109.55 418.57,108.61 C418.95,107.67 419.34,106.74 419.73,105.8 C420.12,104.87 420.52,103.93 420.92,103.01 C421.32,102.08 421.73,101.15 422.14,100.22 C422.55,99.3 422.97,98.38 423.39,97.46 C423.81,96.54 424.24,95.63 424.67,94.71 C425.1,93.8 425.54,92.89 425.98,91.98 C426.43,91.07 426.88,90.17 427.33,89.27 C427.78,88.37 428.24,87.47 428.7,86.57 C429.17,85.68 429.64,84.79 430.11,83.9 C430.59,83.01 431.07,82.12 431.55,81.24 C432.04,80.36 432.53,79.48 433.02,78.61 C433.52,77.73 434.02,76.86 434.53,75.99 C435.04,75.12 435.55,74.26 436.07,73.4 C436.59,72.54 437.12,71.68 437.65,70.83 C438.18,69.97 438.71,69.12 439.26,68.28 C439.8,67.43 440.35,66.59 440.9,65.75 C441.46,64.91 442.02,64.08 442.58,63.25 C443.15,62.42 443.72,61.59 444.3,60.77 C444.88,59.95 445.46,59.13 446.06,58.32 C446.65,57.51 447.24,56.7 447.85,55.89 C448.45,55.09 449.06,54.29 449.67,53.49 C450.29,52.7 450.91,51.9 451.54,51.12 C452.17,50.33 452.8,49.55 453.45,48.77 C454.09,47.99 454.73,47.22 455.39,46.45 C456.04,45.68 456.7,44.92 457.37,44.16 C458.04,43.4 458.71,42.65 459.39,41.9 C460.08,41.15 460.76,40.41 461.46,39.67 C462.15,38.93 463.14,37.91 463.56,37.47 C463.99,37.02 463.93,37.08 464.01,37.01 Q469,32.1 475.96,32.82 C476.36,32.88 477.44,33.02 478.35,33.17 C479.25,33.32 480.39,33.51 481.39,33.7 C482.4,33.9 483.41,34.1 484.41,34.32 C485.4,34.54 486.4,34.78 487.38,35.03 C488.37,35.27 489.35,35.54 490.32,35.81 C491.3,36.09 492.27,36.38 493.23,36.68 C494.19,36.98 495.15,37.3 496.1,37.63 C497.05,37.95 497.99,38.3 498.93,38.65 C499.87,39 500.8,39.37 501.72,39.75 C502.65,40.13 503.57,40.52 504.48,40.92 C505.39,41.33 506.3,41.74 507.2,42.17 C508.1,42.6 508.99,43.04 509.88,43.49 C510.76,43.94 511.65,44.4 512.52,44.88 C513.39,45.35 514.26,45.84 515.12,46.33 C515.98,46.83 516.84,47.33 517.69,47.85 C518.54,48.37 519.38,48.9 520.21,49.44 C521.05,49.98 521.87,50.53 522.7,51.09 C523.52,51.65 524.33,52.22 525.14,52.79 C525.95,53.37 526.75,53.96 527.54,54.56 C528.34,55.16 529.13,55.77 529.91,56.39 C530.69,57.01 531.46,57.64 532.23,58.27 C533,58.91 533.76,59.55 534.51,60.21 C535.26,60.86 536.01,61.53 536.75,62.2 C537.49,62.87 538.22,63.55 538.94,64.24 C539.67,64.93 540.39,65.63 541.1,66.33 C541.81,67.04 542.51,67.75 543.21,68.47 C543.9,69.19 544.59,69.92 545.28,70.65 C545.96,71.39 546.63,72.13 547.3,72.88 C547.97,73.63 548.63,74.39 549.28,75.16 C549.93,75.92 550.58,76.69 551.21,77.47 C551.85,78.25 552.48,79.03 553.11,79.82 C553.73,80.61 554.34,81.41 554.95,82.21 C555.56,83.02 556.16,83.83 556.76,84.64 C557.35,85.46 557.94,86.28 558.52,87.11 C559.1,87.94 559.67,88.77 560.24,89.61 C560.8,90.45 561.36,91.29 561.91,92.14 C562.47,92.99 563.01,93.85 563.55,94.71 C564.09,95.57 564.62,96.43 565.15,97.3 C565.67,98.17 566.19,99.05 566.7,99.93 C567.21,100.81 567.72,101.69 568.22,102.58 C568.72,103.47 569.21,104.36 569.7,105.26 C570.18,106.16 570.66,107.06 571.13,107.97 C571.61,108.87 572.08,109.78 572.54,110.7 C573,111.61 573.45,112.53 573.9,113.45 C574.35,114.37 574.79,115.3 575.23,116.23 C575.67,117.16 576.1,118.09 576.52,119.03 C576.95,119.96 577.37,120.9 577.78,121.84 C578.19,122.78 578.6,123.73 579,124.68 C579.4,125.62 579.8,126.57 580.19,127.53 C580.58,128.48 580.96,129.44 581.34,130.39 C581.72,131.35 582.1,132.31 582.46,133.27 C582.83,134.24 583.2,135.2 583.55,136.17 C583.91,137.13 584.26,138.1 584.61,139.07 C584.96,140.04 585.3,141.02 585.64,141.99 C585.97,142.96 586.3,143.94 586.63,144.92 C586.96,145.89 587.28,146.87 587.59,147.85 C587.91,148.83 588.22,149.81 588.53,150.79 C588.84,151.77 589.14,152.75 589.44,153.74 C589.73,154.72 590.03,155.7 590.31,156.69 C590.6,157.67 590.88,158.65 591.16,159.64 C591.44,160.62 591.72,161.61 591.98,162.59 C592.25,163.58 592.52,164.56 592.78,165.55 C593.04,166.53 593.3,167.52 593.55,168.5 C593.8,169.49 594.05,170.47 594.29,171.45 C594.54,172.44 594.78,173.42 595.01,174.4 C595.25,175.38 595.48,176.37 595.71,177.35 C595.93,178.33 596.16,179.31 596.38,180.28 C596.6,181.26 596.81,182.24 597.02,183.21 C597.24,184.19 597.44,185.16 597.65,186.14 C597.85,187.11 598.05,188.08 598.25,189.05 C598.45,190.02 598.64,190.99 598.83,191.95 C599.02,192.92 599.21,193.88 599.39,194.84 C599.57,195.8 599.75,196.76 599.93,197.71 C600.1,198.67 600.32,199.86 600.45,200.58 C600.58,201.29 600.66,201.76 600.7,202" fill="none" stroke="#00f" stroke-width="1.4" stroke-linecap="butt" stroke-linejoin="round"/>
</g>
<rect x="392.4" y="5.5" width="286.4" height="209.2" fill="none" stroke="#444" stroke-width="1"/>
<path d="M392.4,214.7 v-4.7 M416.27,214.7 v-2.8 M440.13,214.7 v-4.7 M464,214.7 v-2.8 M487.87,214.7 v-4.7 M511.73,214.7 v-2.8 M535.6,214.7 v-4.7 M559.47,214.7 v-2.8 M583.33,214.7 v-4.7 M607.2,214.7 v-2.8 M631.07,214.7 v-4.7 M654.93,214.7 v-2.8 M678.8,214.7 v-4.7 M392.4,214.7 h4.7 M392.4,197.27 h2.8 M392.4,179.83 h4.7 M392.4,162.4 h2.8 M392.4,144.97 h4.7 M392.4,127.53 h2.8 M392.4,110.1 h4.7 M392.4,92.67 h2.8 M392.4,75.23 h4.7 M392.4,57.8 h2.8 M392.4,40.37 h4.7 M392.4,22.93 h2.8 M392.4,5.5 h4.7" stroke="#444" stroke-width="0.9" fill="none"/>
<g font-size="10.2" fill="#000">
<text x="392.4" y="227.6" text-anchor="middle">0</text>
<text x="440.13" y="227.6" text-anchor="middle">2</text>
<text x="487.87" y="227.6" text-anchor="middle">4</text>
<text x="535.6" y="227.6" text-anchor="middle">6</text>
<text x="583.33" y="227.6" text-anchor="middle">8</text>
<text x="631.07" y="227.6" text-anchor="middle">10</text>
<text x="678.8" y="227.6" text-anchor="middle">12</text>
<text x="387.4" y="218.1" text-anchor="end">0</text>
<text x="387.4" y="183.23" text-anchor="end">2</text>
<text x="387.4" y="148.37" text-anchor="end">4</text>
<text x="387.4" y="113.5" text-anchor="end">6</text>
<text x="387.4" y="78.63" text-anchor="end">8</text>
<text x="387.4" y="43.77" text-anchor="end">10</text>
<text x="387.4" y="8.9" text-anchor="end">12</text>
</g>
<text x="535.8" y="255.2" font-size="18.35" text-anchor="middle">Strain <tspan font-family='"Liberation Serif", "Times New Roman", serif' font-size="19.27">ε</tspan>,%</text>
<text transform="translate(359.6,110.1) rotate(-90)" font-size="18.4" text-anchor="middle">Stress σ,MPa</text>
<text x="534.9" y="288.5" font-size="20.2" font-family='"Liberation Serif", "Times New Roman", serif' text-anchor="middle">(b) -8 °C</text>
<g fill="#000">
<rect x="569.28" y="9.18" width="7.04" height="7.04" fill="#fff" stroke="#000" stroke-width="0.85"/>
<text x="588.4" y="16.68" font-size="11.05">431 s<tspan dy="-4.86" font-size="6.41">-1</tspan><tspan dy="4.86" letter-spacing="-0.2" dx="1.5">Experiment</tspan></text>
<circle cx="572.8" cy="27.2" r="4.17" fill="#fff" stroke="#f00" stroke-width="0.85"/>
<text x="588.4" y="31.18" font-size="11.05">581 s<tspan dy="-4.86" font-size="6.41">-1</tspan><tspan dy="4.86" letter-spacing="-0.2" dx="1.5">Experiment</tspan></text>
<path d="M572.8,37.7 L577.72,46.15 L567.88,46.15 Z" fill="#fff" stroke="#00f" stroke-width="0.85" stroke-linejoin="miter"/>
<text x="588.4" y="46.28" font-size="11.05">917 s<tspan dy="-4.86" font-size="6.41">-1</tspan><tspan dy="4.86" letter-spacing="-0.2" dx="1.5">Experiment</tspan></text>
<path d="M560.7,58.3 H585.9" stroke="#000" stroke-width="1.25"/>
<text x="588.4" y="61.88" font-size="11.05">431 s<tspan dy="-4.86" font-size="6.41">-1</tspan><tspan dy="4.86" letter-spacing="-0.2">  Model</tspan></text>
<path d="M560.7,72.9 H585.9" stroke="#f00" stroke-width="1.25"/>
<text x="588.4" y="76.48" font-size="11.05">581 s<tspan dy="-4.86" font-size="6.41">-1</tspan><tspan dy="4.86" letter-spacing="-0.2">  Model</tspan></text>
<path d="M560.7,87.9 H585.9" stroke="#00f" stroke-width="1.25"/>
<text x="588.4" y="91.48" font-size="11.05">917 s<tspan dy="-4.86" font-size="6.41">-1</tspan><tspan dy="4.86" letter-spacing="-0.2">  Model</tspan></text>
</g>
<clipPath id="clip2"><rect x="44.6" y="312.7" width="265.8" height="213.45"/></clipPath>
<g clip-path="url(#clip2)">
<path d="M44.6,526.15 C44.77,525.63 45.27,524.08 45.61,523.06 C45.95,522.04 46.29,521.03 46.64,520.04 C46.98,519.04 47.33,518.06 47.68,517.08 C48.03,516.1 48.39,515.13 48.75,514.18 C49.11,513.22 49.48,512.27 49.85,511.32 C50.22,510.38 50.6,509.44 50.98,508.51 C51.37,507.58 51.76,506.66 52.17,505.74 C52.57,504.82 52.98,503.9 53.4,502.99 C53.82,502.08 54.24,501.18 54.68,500.27 C55.12,499.37 55.57,498.47 56.03,497.57 C56.5,496.67 56.97,495.78 57.45,494.88 C57.94,493.99 58.44,493.09 58.95,492.2 C59.46,491.3 59.99,490.41 60.53,489.51 C61.07,488.61 61.63,487.72 62.2,486.82 C62.77,485.92 63.36,485.01 63.96,484.11 C64.57,483.21 65.19,482.31 65.83,481.43 C66.47,480.55 67.13,479.67 67.8,478.82 C68.48,477.97 69.18,477.14 69.89,476.34 C70.61,475.54 71.35,474.76 72.11,474.03 C72.86,473.3 73.64,472.59 74.44,471.95 C75.25,471.31 76.07,470.69 76.91,470.19 C77.75,469.7 78.62,469.24 79.49,468.98 C80.36,468.72 81.24,468.59 82.13,468.62 C83.02,468.65 83.92,468.89 84.82,469.18 C85.72,469.46 86.62,469.86 87.52,470.3 C88.41,470.75 89.31,471.27 90.19,471.82 C91.08,472.38 91.96,473 92.82,473.63 C93.68,474.27 94.53,474.95 95.35,475.64 C96.18,476.32 96.99,477.03 97.78,477.75 C98.57,478.47 99.33,479.2 100.08,479.95 C100.83,480.7 101.55,481.46 102.26,482.24 C102.96,483.02 103.64,483.81 104.3,484.61 C104.96,485.42 105.6,486.24 106.21,487.07 C106.83,487.9 107.42,488.75 107.98,489.6 C108.55,490.46 109.1,491.34 109.61,492.22 C110.13,493.11 110.63,494.01 111.1,494.92 C111.57,495.83 112.02,496.75 112.43,497.69 C112.85,498.62 113.25,499.57 113.62,500.53 C113.98,501.49 114.33,502.47 114.64,503.45 C114.95,504.44 115.24,505.43 115.5,506.44 C115.76,507.45 116.08,508.99 116.2,509.5" fill="none" stroke="#000" stroke-width="1.35" stroke-linecap="butt" stroke-linejoin="round"/>
<path d="M44.6,526.15 C44.74,525.64 45.17,524.11 45.46,523.11 C45.76,522.1 46.06,521.1 46.37,520.11 C46.68,519.11 47,518.13 47.33,517.15 C47.66,516.17 47.99,515.2 48.33,514.24 C48.68,513.27 49.02,512.31 49.38,511.36 C49.74,510.41 50.1,509.46 50.47,508.52 C50.85,507.58 51.22,506.64 51.61,505.71 C51.99,504.78 52.39,503.85 52.79,502.93 C53.19,502.01 53.59,501.09 54,500.18 C54.42,499.27 54.84,498.36 55.26,497.45 C55.69,496.55 56.12,495.65 56.56,494.75 C57,493.85 57.44,492.96 57.89,492.06 C58.34,491.17 58.8,490.28 59.26,489.4 C59.73,488.51 60.2,487.62 60.67,486.74 C61.15,485.86 61.63,484.98 62.11,484.1 C62.6,483.22 63.09,482.34 63.59,481.47 C64.08,480.59 64.59,479.72 65.09,478.84 C65.6,477.97 66.12,477.09 66.63,476.22 C67.15,475.35 67.68,474.47 68.2,473.6 C68.73,472.73 69.27,471.85 69.8,470.98 C70.34,470.1 70.88,469.23 71.43,468.35 C71.98,467.47 72.53,466.6 73.09,465.72 C73.64,464.84 74.21,463.96 74.77,463.09 C75.34,462.21 75.92,461.34 76.5,460.47 C77.09,459.6 77.68,458.73 78.28,457.87 C78.88,457.01 79.48,456.16 80.1,455.31 C80.72,454.46 81.35,453.62 81.99,452.79 C82.63,451.97 83.27,451.14 83.94,450.33 C84.6,449.53 85.27,448.73 85.96,447.94 C86.65,447.16 87.35,446.39 88.07,445.63 C88.78,444.88 89.51,444.13 90.26,443.41 C91,442.68 91.77,441.97 92.54,441.29 C93.32,440.6 94.12,439.92 94.92,439.3 C95.73,438.67 96.56,438.07 97.39,437.55 C98.23,437.03 99.07,436.55 99.93,436.17 C100.78,435.79 101.65,435.49 102.52,435.29 C103.39,435.1 104.27,435.01 105.15,435.01 C106.03,435.01 106.92,435.12 107.8,435.29 C108.68,435.46 109.56,435.73 110.43,436.05 C111.3,436.37 112.16,436.77 113.02,437.22 C113.87,437.66 114.71,438.17 115.54,438.72 C116.36,439.27 117.17,439.86 117.97,440.49 C118.76,441.12 119.54,441.8 120.31,442.5 C121.07,443.2 121.82,443.94 122.55,444.71 C123.28,445.47 124,446.27 124.69,447.08 C125.39,447.89 126.07,448.73 126.73,449.58 C127.39,450.43 128.04,451.31 128.66,452.18 C129.29,453.06 129.9,453.95 130.48,454.85 C131.07,455.74 131.64,456.64 132.19,457.54 C132.74,458.45 133.27,459.35 133.79,460.26 C134.31,461.17 134.8,462.08 135.29,462.99 C135.77,463.91 136.23,464.82 136.69,465.74 C137.14,466.66 137.57,467.58 138,468.51 C138.42,469.43 138.83,470.36 139.23,471.29 C139.63,472.22 140.01,473.16 140.39,474.09 C140.77,475.02 141.13,475.96 141.48,476.9 C141.84,477.84 142.18,478.78 142.52,479.73 C142.86,480.67 143.18,481.62 143.51,482.57 C143.83,483.51 144.14,484.46 144.45,485.42 C144.75,486.37 145.06,487.32 145.35,488.28 C145.65,489.23 145.94,490.19 146.23,491.15 C146.52,492.11 146.8,493.07 147.08,494.03 C147.37,494.99 147.65,495.96 147.93,496.92 C148.21,497.89 148.48,498.85 148.76,499.82 C149.04,500.79 149.32,501.76 149.6,502.72 C149.88,503.69 150.16,504.67 150.44,505.64 C150.73,506.61 151.01,507.58 151.3,508.56 C151.59,509.53 151.88,510.5 152.18,511.48 C152.48,512.46 152.79,513.43 153.1,514.41 C153.41,515.38 153.72,516.36 154.05,517.34 C154.37,518.32 154.7,519.3 155.04,520.27 C155.38,521.25 155.73,522.23 156.09,523.21 C156.45,524.19 157.02,525.66 157.2,526.15" fill="none" stroke="#f00" stroke-width="1.35" stroke-linecap="butt" stroke-linejoin="round"/>
<path d="M44.6,526.15 C44.72,525.66 45.08,524.18 45.33,523.19 C45.58,522.21 45.84,521.23 46.1,520.25 C46.36,519.27 46.63,518.29 46.91,517.31 C47.18,516.34 47.46,515.36 47.75,514.39 C48.04,513.42 48.33,512.45 48.63,511.49 C48.93,510.52 49.24,509.56 49.55,508.59 C49.86,507.63 50.18,506.67 50.51,505.72 C50.83,504.76 51.16,503.8 51.5,502.85 C51.83,501.9 52.18,500.95 52.53,500 C52.87,499.05 53.23,498.1 53.59,497.16 C53.95,496.22 54.31,495.28 54.68,494.34 C55.06,493.4 55.43,492.46 55.82,491.53 C56.2,490.59 56.59,489.66 56.98,488.73 C57.38,487.81 57.78,486.88 58.18,485.95 C58.59,485.03 59,484.11 59.41,483.19 C59.83,482.27 60.25,481.35 60.68,480.44 C61.1,479.53 61.54,478.61 61.98,477.7 C62.41,476.8 62.86,475.89 63.3,474.99 C63.75,474.08 64.21,473.18 64.67,472.28 C65.12,471.38 65.59,470.49 66.06,469.59 C66.53,468.7 67,467.81 67.48,466.92 C67.96,466.03 68.44,465.15 68.93,464.26 C69.42,463.38 69.92,462.5 70.41,461.62 C70.91,460.74 71.42,459.87 71.93,459 C72.44,458.12 72.95,457.25 73.47,456.39 C73.99,455.52 74.51,454.66 75.04,453.79 C75.56,452.93 76.1,452.07 76.63,451.22 C77.17,450.36 77.71,449.51 78.26,448.66 C78.81,447.81 79.36,446.96 79.91,446.12 C80.47,445.27 81.03,444.43 81.59,443.59 C82.16,442.75 82.73,441.92 83.3,441.08 C83.87,440.25 84.45,439.42 85.03,438.59 C85.61,437.77 86.2,436.94 86.79,436.12 C87.38,435.3 87.97,434.48 88.57,433.67 C89.17,432.85 89.77,432.04 90.38,431.23 C90.99,430.42 91.6,429.61 92.21,428.81 C92.83,428 93.45,427.2 94.07,426.41 C94.69,425.61 95.32,424.81 95.95,424.02 C96.58,423.23 97.21,422.44 97.85,421.66 C98.49,420.87 99.13,420.09 99.78,419.31 C100.42,418.53 101.07,417.76 101.73,416.98 C102.38,416.21 103.04,415.44 103.7,414.67 C104.36,413.91 105.02,413.14 105.69,412.38 C106.36,411.62 107.03,410.87 107.7,410.11 C108.38,409.36 109.05,408.61 109.74,407.86 C110.42,407.11 111.1,406.37 111.79,405.63 C112.48,404.89 113.17,404.15 113.86,403.42 C114.56,402.68 115.26,401.95 115.96,401.22 C116.66,400.5 117.36,399.77 118.07,399.05 C118.78,398.33 119.49,397.61 120.2,396.9 C120.91,396.18 121.63,395.47 122.35,394.77 C123.07,394.06 123.79,393.35 124.51,392.65 C125.24,391.95 125.97,391.25 126.7,390.56 C127.43,389.87 128.16,389.18 128.9,388.49 C129.64,387.8 130.5,387.01 131.12,386.44 C131.74,385.87 132.37,385.3 132.62,385.07 Q135.6,382.4 139.5,383.27 C139.9,383.36 140.95,383.61 141.85,383.83 C142.75,384.06 143.9,384.35 144.91,384.63 C145.92,384.9 146.92,385.19 147.91,385.48 C148.9,385.77 149.89,386.08 150.86,386.39 C151.84,386.7 152.8,387.03 153.76,387.36 C154.72,387.7 155.67,388.04 156.61,388.4 C157.56,388.76 158.49,389.13 159.41,389.51 C160.34,389.89 161.25,390.28 162.16,390.69 C163.07,391.09 163.97,391.51 164.86,391.94 C165.75,392.37 166.63,392.82 167.5,393.27 C168.38,393.73 169.24,394.2 170.1,394.68 C170.95,395.17 171.8,395.66 172.64,396.17 C173.47,396.68 174.3,397.2 175.12,397.74 C175.94,398.27 176.75,398.82 177.56,399.38 C178.36,399.95 179.15,400.52 179.94,401.11 C180.72,401.7 181.5,402.31 182.27,402.93 C183.03,403.54 183.79,404.18 184.54,404.82 C185.29,405.47 186.03,406.12 186.76,406.79 C187.49,407.46 188.21,408.15 188.92,408.84 C189.64,409.54 190.34,410.24 191.03,410.96 C191.73,411.68 192.41,412.41 193.09,413.15 C193.76,413.89 194.43,414.64 195.09,415.4 C195.74,416.16 196.39,416.93 197.03,417.71 C197.67,418.49 198.3,419.28 198.92,420.08 C199.54,420.88 200.15,421.69 200.75,422.5 C201.35,423.32 201.94,424.14 202.53,424.97 C203.11,425.81 203.68,426.64 204.25,427.49 C204.81,428.34 205.36,429.19 205.91,430.05 C206.45,430.91 206.99,431.78 207.52,432.65 C208.05,433.52 208.57,434.4 209.08,435.28 C209.59,436.17 210.09,437.06 210.59,437.95 C211.09,438.85 211.57,439.75 212.06,440.65 C212.54,441.56 213.01,442.47 213.48,443.38 C213.95,444.29 214.41,445.21 214.86,446.13 C215.31,447.05 215.76,447.97 216.2,448.9 C216.64,449.83 217.08,450.76 217.51,451.69 C217.94,452.62 218.36,453.56 218.78,454.49 C219.2,455.43 219.61,456.37 220.02,457.31 C220.43,458.25 220.84,459.19 221.24,460.14 C221.64,461.08 222.03,462.02 222.42,462.97 C222.81,463.91 223.2,464.86 223.58,465.8 C223.97,466.75 224.35,467.69 224.72,468.63 C225.1,469.58 225.47,470.52 225.84,471.46 C226.22,472.41 226.58,473.35 226.95,474.29 C227.31,475.23 227.68,476.17 228.04,477.1 C228.4,478.04 228.76,478.97 229.12,479.9 C229.47,480.83 229.83,481.76 230.18,482.69 C230.54,483.61 230.89,484.54 231.24,485.46 C231.6,486.37 232.12,487.74 232.3,488.2" fill="none" stroke="#00f" stroke-width="1.35" stroke-linecap="butt" stroke-linejoin="round"/>
<rect x="43" y="517" width="7" height="7" fill="#fff" stroke="#000" stroke-width="0.9"/>
<rect x="47" y="502.3" width="7" height="7" fill="#fff" stroke="#000" stroke-width="0.9"/>
<rect x="50.5" y="498.5" width="7" height="7" fill="#fff" stroke="#000" stroke-width="0.9"/>
<rect x="54.8" y="494.4" width="7" height="7" fill="#fff" stroke="#000" stroke-width="0.9"/>
<rect x="59.4" y="483.9" width="7" height="7" fill="#fff" stroke="#000" stroke-width="0.9"/>
<rect x="64.7" y="476.7" width="7" height="7" fill="#fff" stroke="#000" stroke-width="0.9"/>
<rect x="70.6" y="468.8" width="7" height="7" fill="#fff" stroke="#000" stroke-width="0.9"/>
<rect x="77.3" y="467.5" width="7" height="7" fill="#fff" stroke="#000" stroke-width="0.9"/>
<rect x="83.6" y="471.5" width="7" height="7" fill="#fff" stroke="#000" stroke-width="0.9"/>
<rect x="88.2" y="478" width="7" height="7" fill="#fff" stroke="#000" stroke-width="0.9"/>
<rect x="92.7" y="485.6" width="7" height="7" fill="#fff" stroke="#000" stroke-width="0.9"/>
<rect x="97.3" y="492.2" width="7" height="7" fill="#fff" stroke="#000" stroke-width="0.9"/>
<rect x="101.6" y="498.3" width="7" height="7" fill="#fff" stroke="#000" stroke-width="0.9"/>
<rect x="106.5" y="503.3" width="7" height="7" fill="#fff" stroke="#000" stroke-width="0.9"/>
<rect x="111.1" y="507.6" width="7" height="7" fill="#fff" stroke="#000" stroke-width="0.9"/>
<rect x="115.5" y="510.4" width="7" height="7" fill="#fff" stroke="#000" stroke-width="0.9"/>
<rect x="118.6" y="511" width="7" height="7" fill="#fff" stroke="#000" stroke-width="0.9"/>
<circle cx="49.3" cy="513.8" r="3.9" fill="#fff" stroke="#f00" stroke-width="0.95"/>
<circle cx="55.5" cy="504.5" r="3.9" fill="#fff" stroke="#f00" stroke-width="0.95"/>
<circle cx="62.9" cy="491.3" r="3.9" fill="#fff" stroke="#f00" stroke-width="0.95"/>
<circle cx="70.5" cy="475" r="3.9" fill="#fff" stroke="#f00" stroke-width="0.95"/>
<circle cx="77.2" cy="458.5" r="3.9" fill="#fff" stroke="#f00" stroke-width="0.95"/>
<circle cx="84.2" cy="444.5" r="3.9" fill="#fff" stroke="#f00" stroke-width="0.95"/>
<circle cx="91" cy="437.6" r="3.9" fill="#fff" stroke="#f00" stroke-width="0.95"/>
<circle cx="98" cy="435" r="3.9" fill="#fff" stroke="#f00" stroke-width="0.95"/>
<circle cx="104.9" cy="434.7" r="3.9" fill="#fff" stroke="#f00" stroke-width="0.95"/>
<circle cx="112" cy="436.6" r="3.9" fill="#fff" stroke="#f00" stroke-width="0.95"/>
<circle cx="119.3" cy="442.6" r="3.9" fill="#fff" stroke="#f00" stroke-width="0.95"/>
<circle cx="126.4" cy="453.4" r="3.9" fill="#fff" stroke="#f00" stroke-width="0.95"/>
<circle cx="133.1" cy="467.3" r="3.9" fill="#fff" stroke="#f00" stroke-width="0.95"/>
<circle cx="140.1" cy="485.1" r="3.9" fill="#fff" stroke="#f00" stroke-width="0.95"/>
<circle cx="146.9" cy="500.8" r="3.9" fill="#fff" stroke="#f00" stroke-width="0.95"/>
<circle cx="151.7" cy="513.4" r="3.9" fill="#fff" stroke="#f00" stroke-width="0.95"/>
<circle cx="155.2" cy="521.9" r="3.9" fill="#fff" stroke="#f00" stroke-width="0.95"/>
<circle cx="157" cy="525.9" r="3.9" fill="#fff" stroke="#f00" stroke-width="0.95"/>
<path d="M46.7,516.5 L51.3,524.4 L42.1,524.4 Z" fill="#fff" stroke="#00f" stroke-width="0.95" stroke-linejoin="miter"/>
<path d="M50.3,505.7 L54.9,513.6 L45.7,513.6 Z" fill="#fff" stroke="#00f" stroke-width="0.95" stroke-linejoin="miter"/>
<path d="M57.7,489 L62.3,496.9 L53.1,496.9 Z" fill="#fff" stroke="#00f" stroke-width="0.95" stroke-linejoin="miter"/>
<path d="M69.5,463.4 L74.1,471.3 L64.9,471.3 Z" fill="#fff" stroke="#00f" stroke-width="0.95" stroke-linejoin="miter"/>
<path d="M82.9,437.7 L87.5,445.6 L78.3,445.6 Z" fill="#fff" stroke="#00f" stroke-width="0.95" stroke-linejoin="miter"/>
<path d="M94.5,414.7 L99.1,422.6 L89.9,422.6 Z" fill="#fff" stroke="#00f" stroke-width="0.95" stroke-linejoin="miter"/>
<path d="M104.8,400.3 L109.4,408.2 L100.2,408.2 Z" fill="#fff" stroke="#00f" stroke-width="0.95" stroke-linejoin="miter"/>
<path d="M116.1,394 L120.7,401.9 L111.5,401.9 Z" fill="#fff" stroke="#00f" stroke-width="0.95" stroke-linejoin="miter"/>
<path d="M128.6,390.8 L133.2,398.7 L124,398.7 Z" fill="#fff" stroke="#00f" stroke-width="0.95" stroke-linejoin="miter"/>
<path d="M141,390 L145.6,397.9 L136.4,397.9 Z" fill="#fff" stroke="#00f" stroke-width="0.95" stroke-linejoin="miter"/>
<path d="M152.5,391.3 L157.1,399.2 L147.9,399.2 Z" fill="#fff" stroke="#00f" stroke-width="0.95" stroke-linejoin="miter"/>
<path d="M164.6,396.1 L169.2,404 L160,404 Z" fill="#fff" stroke="#00f" stroke-width="0.95" stroke-linejoin="miter"/>
<path d="M177,406.2 L181.6,414.1 L172.4,414.1 Z" fill="#fff" stroke="#00f" stroke-width="0.95" stroke-linejoin="miter"/>
<path d="M188.5,421.7 L193.1,429.6 L183.9,429.6 Z" fill="#fff" stroke="#00f" stroke-width="0.95" stroke-linejoin="miter"/>
<path d="M200.2,438.9 L204.8,446.8 L195.6,446.8 Z" fill="#fff" stroke="#00f" stroke-width="0.95" stroke-linejoin="miter"/>
<path d="M212.1,455.2 L216.7,463.1 L207.5,463.1 Z" fill="#fff" stroke="#00f" stroke-width="0.95" stroke-linejoin="miter"/>
<path d="M221.7,468.2 L226.3,476.1 L217.1,476.1 Z" fill="#fff" stroke="#00f" stroke-width="0.95" stroke-linejoin="miter"/>
<path d="M228.5,478.9 L233.1,486.8 L223.9,486.8 Z" fill="#fff" stroke="#00f" stroke-width="0.95" stroke-linejoin="miter"/>
<path d="M232.5,486.4 L237.1,494.3 L227.9,494.3 Z" fill="#fff" stroke="#00f" stroke-width="0.95" stroke-linejoin="miter"/>
</g>
<rect x="44.6" y="312.7" width="265.8" height="213.45" fill="none" stroke="#111" stroke-width="1"/>
<path d="M44.6,526.15 v-4.7 M63.59,526.15 v-2.8 M82.57,526.15 v-4.7 M101.56,526.15 v-2.8 M120.54,526.15 v-4.7 M139.53,526.15 v-2.8 M158.51,526.15 v-4.7 M177.5,526.15 v-2.8 M196.49,526.15 v-4.7 M215.47,526.15 v-2.8 M234.46,526.15 v-4.7 M253.44,526.15 v-2.8 M272.43,526.15 v-4.7 M291.41,526.15 v-2.8 M310.4,526.15 v-4.7 M44.6,526.15 h4.7 M44.6,510.9 h2.8 M44.6,495.66 h4.7 M44.6,480.41 h2.8 M44.6,465.16 h4.7 M44.6,449.92 h2.8 M44.6,434.67 h4.7 M44.6,419.42 h2.8 M44.6,404.18 h4.7 M44.6,388.93 h2.8 M44.6,373.69 h4.7 M44.6,358.44 h2.8 M44.6,343.19 h4.7 M44.6,327.95 h2.8 M44.6,312.7 h4.7" stroke="#111" stroke-width="0.9" fill="none"/>
<g font-size="10.2" fill="#000">
<text x="44.6" y="539.05" text-anchor="middle">0</text>
<text x="82.57" y="539.05" text-anchor="middle">2</text>
<text x="120.54" y="539.05" text-anchor="middle">4</text>
<text x="158.51" y="539.05" text-anchor="middle">6</text>
<text x="196.49" y="539.05" text-anchor="middle">8</text>
<text x="234.46" y="539.05" text-anchor="middle">10</text>
<text x="272.43" y="539.05" text-anchor="middle">12</text>
<text x="310.4" y="539.05" text-anchor="middle">14</text>
<text x="39.6" y="529.55" text-anchor="end">0</text>
<text x="39.6" y="499.06" text-anchor="end">5</text>
<text x="39.6" y="468.56" text-anchor="end">10</text>
<text x="39.6" y="438.07" text-anchor="end">15</text>
<text x="39.6" y="407.58" text-anchor="end">20</text>
<text x="39.6" y="377.09" text-anchor="end">25</text>
<text x="39.6" y="346.59" text-anchor="end">30</text>
<text x="39.6" y="316.1" text-anchor="end">35</text>
</g>
<text x="177.6" y="565.1" font-size="18.15" text-anchor="middle">Strain <tspan font-family='"Liberation Serif", "Times New Roman", serif' font-size="19.06">ε</tspan>,%</text>
<text transform="translate(13.2,413.7) rotate(-90)" font-size="18.0" text-anchor="middle">Stress σ,MPa</text>
<text x="191.2" y="604.6" font-size="20.4" font-family='"Liberation Serif", "Times New Roman", serif' text-anchor="middle">(c) -18 °C</text>
<g fill="#000">
<rect x="190.58" y="316.18" width="7.04" height="7.04" fill="#fff" stroke="#000" stroke-width="0.85"/>
<text x="209.7" y="323.6" font-size="11.1">430 s<tspan dy="-4.88" font-size="6.44">-1</tspan><tspan dy="4.88"> Experiment</tspan></text>
<circle cx="194.1" cy="335" r="4.17" fill="#fff" stroke="#f00" stroke-width="0.85"/>
<text x="209.7" y="338.9" font-size="11.1">618 s<tspan dy="-4.88" font-size="6.44">-1</tspan><tspan dy="4.88"> Experiment</tspan></text>
<path d="M194.1,345.5 L199.02,353.95 L189.18,353.95 Z" fill="#fff" stroke="#00f" stroke-width="0.85" stroke-linejoin="miter"/>
<text x="209.7" y="354" font-size="11.1">1040 s<tspan dy="-4.88" font-size="6.44">-1</tspan><tspan dy="4.88"> Experiment</tspan></text>
<path d="M181.7,366.3 H206.7" stroke="#000" stroke-width="1.25"/>
<text x="209.7" y="369.8" font-size="11.1">430 s<tspan dy="-4.88" font-size="6.44">-1</tspan><tspan dy="4.88"> Model</tspan></text>
<path d="M181.7,381.7 H206.7" stroke="#f00" stroke-width="1.25"/>
<text x="209.7" y="385.2" font-size="11.1">618 s<tspan dy="-4.88" font-size="6.44">-1</tspan><tspan dy="4.88"> Model</tspan></text>
<path d="M181.7,397 H206.7" stroke="#00f" stroke-width="1.25"/>
<text x="209.7" y="400.5" font-size="11.1">1040 s<tspan dy="-4.88" font-size="6.44">-1</tspan><tspan dy="4.88"> Model</tspan></text>
</g>
<clipPath id="clip3"><rect x="398.6" y="312.9" width="274.4" height="211.5"/></clipPath>
<g clip-path="url(#clip3)">
<rect x="396.2" y="508.1" width="7" height="7" fill="#fff" stroke="#333" stroke-width="0.75"/>
<rect x="397.4" y="495.6" width="7" height="7" fill="#fff" stroke="#333" stroke-width="0.75"/>
<rect x="399.1" y="476.1" width="7" height="7" fill="#fff" stroke="#333" stroke-width="0.75"/>
<rect x="403.4" y="456.5" width="7" height="7" fill="#fff" stroke="#333" stroke-width="0.75"/>
<rect x="409.3" y="435.4" width="7" height="7" fill="#fff" stroke="#333" stroke-width="0.75"/>
<rect x="415.6" y="417.9" width="7" height="7" fill="#fff" stroke="#333" stroke-width="0.75"/>
<rect x="421.2" y="404.5" width="7" height="7" fill="#fff" stroke="#333" stroke-width="0.75"/>
<rect x="425.4" y="398.3" width="7" height="7" fill="#fff" stroke="#333" stroke-width="0.75"/>
<rect x="430.5" y="396.5" width="7" height="7" fill="#fff" stroke="#333" stroke-width="0.75"/>
<rect x="436.9" y="401.3" width="7" height="7" fill="#fff" stroke="#333" stroke-width="0.75"/>
<rect x="442.7" y="407.8" width="7" height="7" fill="#fff" stroke="#333" stroke-width="0.75"/>
<rect x="448.3" y="414.6" width="7" height="7" fill="#fff" stroke="#333" stroke-width="0.75"/>
<rect x="453.6" y="422" width="7" height="7" fill="#fff" stroke="#333" stroke-width="0.75"/>
<rect x="459.3" y="431.5" width="7" height="7" fill="#fff" stroke="#333" stroke-width="0.75"/>
<rect x="464.4" y="444.8" width="7" height="7" fill="#fff" stroke="#333" stroke-width="0.75"/>
<rect x="469.5" y="459.6" width="7" height="7" fill="#fff" stroke="#333" stroke-width="0.75"/>
<rect x="474.1" y="475.5" width="7" height="7" fill="#fff" stroke="#333" stroke-width="0.75"/>
<rect x="478.2" y="484.3" width="7" height="7" fill="#fff" stroke="#333" stroke-width="0.75"/>
<circle cx="399.4" cy="505.7" r="3.9" fill="#fff" stroke="#f00" stroke-width="0.8"/>
<circle cx="400.4" cy="493.9" r="3.9" fill="#fff" stroke="#f00" stroke-width="0.8"/>
<circle cx="401.1" cy="477.9" r="3.9" fill="#fff" stroke="#f00" stroke-width="0.8"/>
<circle cx="403.8" cy="458.5" r="3.9" fill="#fff" stroke="#f00" stroke-width="0.8"/>
<circle cx="411.5" cy="438.5" r="3.9" fill="#fff" stroke="#f00" stroke-width="0.8"/>
<circle cx="419.6" cy="416.3" r="3.9" fill="#fff" stroke="#f00" stroke-width="0.8"/>
<circle cx="427.9" cy="396.7" r="3.9" fill="#fff" stroke="#f00" stroke-width="0.8"/>
<circle cx="434.2" cy="382.4" r="3.9" fill="#fff" stroke="#f00" stroke-width="0.8"/>
<circle cx="440.9" cy="378" r="3.9" fill="#fff" stroke="#f00" stroke-width="0.8"/>
<circle cx="448.6" cy="379" r="3.9" fill="#fff" stroke="#f00" stroke-width="0.8"/>
<circle cx="456.2" cy="383.2" r="3.9" fill="#fff" stroke="#f00" stroke-width="0.8"/>
<circle cx="464" cy="387.8" r="3.9" fill="#fff" stroke="#f00" stroke-width="0.8"/>
<circle cx="471" cy="392.4" r="3.9" fill="#fff" stroke="#f00" stroke-width="0.8"/>
<circle cx="478.4" cy="397" r="3.9" fill="#fff" stroke="#f00" stroke-width="0.8"/>
<circle cx="485.5" cy="404.4" r="3.9" fill="#fff" stroke="#f00" stroke-width="0.8"/>
<circle cx="492.3" cy="418.2" r="3.9" fill="#fff" stroke="#f00" stroke-width="0.8"/>
<circle cx="499" cy="436.2" r="3.9" fill="#fff" stroke="#f00" stroke-width="0.8"/>
<circle cx="504.9" cy="455.2" r="3.9" fill="#fff" stroke="#f00" stroke-width="0.8"/>
<circle cx="508.7" cy="472.9" r="3.9" fill="#fff" stroke="#f00" stroke-width="0.8"/>
<circle cx="511.7" cy="479.6" r="3.9" fill="#fff" stroke="#f00" stroke-width="0.8"/>
<path d="M400.1,500.97 L405.16,509.66 L395.04,509.66 Z" fill="#fff" stroke="#00f" stroke-width="0.8" stroke-linejoin="miter"/>
<path d="M401.6,483.27 L406.66,491.96 L396.54,491.96 Z" fill="#fff" stroke="#00f" stroke-width="0.8" stroke-linejoin="miter"/>
<path d="M403.8,451.57 L408.86,460.26 L398.74,460.26 Z" fill="#fff" stroke="#00f" stroke-width="0.8" stroke-linejoin="miter"/>
<path d="M412.1,419.67 L417.16,428.36 L407.04,428.36 Z" fill="#fff" stroke="#00f" stroke-width="0.8" stroke-linejoin="miter"/>
<path d="M423.4,391.97 L428.46,400.66 L418.34,400.66 Z" fill="#fff" stroke="#00f" stroke-width="0.8" stroke-linejoin="miter"/>
<path d="M436.6,370.07 L441.66,378.76 L431.54,378.76 Z" fill="#fff" stroke="#00f" stroke-width="0.8" stroke-linejoin="miter"/>
<path d="M448.5,356.87 L453.56,365.56 L443.44,365.56 Z" fill="#fff" stroke="#00f" stroke-width="0.8" stroke-linejoin="miter"/>
<path d="M458.6,352.57 L463.66,361.26 L453.54,361.26 Z" fill="#fff" stroke="#00f" stroke-width="0.8" stroke-linejoin="miter"/>
<path d="M469.9,352.57 L474.96,361.26 L464.84,361.26 Z" fill="#fff" stroke="#00f" stroke-width="0.8" stroke-linejoin="miter"/>
<path d="M483,355.57 L488.06,364.26 L477.94,364.26 Z" fill="#fff" stroke="#00f" stroke-width="0.8" stroke-linejoin="miter"/>
<path d="M495,362.37 L500.06,371.06 L489.94,371.06 Z" fill="#fff" stroke="#00f" stroke-width="0.8" stroke-linejoin="miter"/>
<path d="M506.2,370.87 L511.26,379.56 L501.14,379.56 Z" fill="#fff" stroke="#00f" stroke-width="0.8" stroke-linejoin="miter"/>
<path d="M517.4,381.67 L522.46,390.36 L512.34,390.36 Z" fill="#fff" stroke="#00f" stroke-width="0.8" stroke-linejoin="miter"/>
<path d="M529.5,393.57 L534.56,402.26 L524.44,402.26 Z" fill="#fff" stroke="#00f" stroke-width="0.8" stroke-linejoin="miter"/>
<path d="M540,409.47 L545.06,418.16 L534.94,418.16 Z" fill="#fff" stroke="#00f" stroke-width="0.8" stroke-linejoin="miter"/>
<path d="M551.1,426.87 L556.16,435.56 L546.04,435.56 Z" fill="#fff" stroke="#00f" stroke-width="0.8" stroke-linejoin="miter"/>
<path d="M562.6,445.27 L567.66,453.96 L557.54,453.96 Z" fill="#fff" stroke="#00f" stroke-width="0.8" stroke-linejoin="miter"/>
<path d="M571.9,463.57 L576.96,472.26 L566.84,472.26 Z" fill="#fff" stroke="#00f" stroke-width="0.8" stroke-linejoin="miter"/>
<path d="M578,479.67 L583.06,488.36 L572.94,488.36 Z" fill="#fff" stroke="#00f" stroke-width="0.8" stroke-linejoin="miter"/>
<path d="M580.8,491.77 L585.86,500.46 L575.74,500.46 Z" fill="#fff" stroke="#00f" stroke-width="0.8" stroke-linejoin="miter"/>
<path d="M398.6,524.4 C398.58,523.9 398.52,522.38 398.49,521.37 C398.47,520.36 398.46,519.35 398.46,518.34 C398.46,517.33 398.47,516.31 398.49,515.3 C398.52,514.28 398.55,513.27 398.59,512.25 C398.63,511.23 398.69,510.21 398.75,509.19 C398.81,508.18 398.88,507.16 398.96,506.14 C399.04,505.12 399.13,504.1 399.23,503.07 C399.32,502.05 399.43,501.03 399.54,500.01 C399.65,498.99 399.77,497.96 399.9,496.94 C400.02,495.92 400.16,494.89 400.3,493.87 C400.44,492.85 400.58,491.82 400.73,490.8 C400.88,489.77 401.04,488.75 401.2,487.73 C401.36,486.7 401.53,485.68 401.7,484.66 C401.87,483.63 402.05,482.61 402.22,481.58 C402.4,480.56 402.59,479.54 402.77,478.52 C402.96,477.49 403.15,476.47 403.34,475.45 C403.53,474.43 403.72,473.41 403.91,472.38 C404.11,471.36 404.31,470.34 404.5,469.33 C404.7,468.31 404.9,467.29 405.1,466.27 C405.3,465.25 405.5,464.24 405.7,463.22 C405.9,462.2 406.1,461.19 406.29,460.18 C406.49,459.16 406.69,458.15 406.89,457.14 C407.08,456.13 407.28,455.12 407.47,454.11 C407.66,453.1 407.85,452.09 408.04,451.09 C408.23,450.08 408.41,449.08 408.6,448.07 C408.78,447.07 408.96,446.07 409.15,445.07 C409.33,444.07 409.51,443.07 409.7,442.08 C409.89,441.08 410.09,440.08 410.29,439.09 C410.49,438.1 410.7,437.11 410.92,436.12 C411.14,435.13 411.36,434.15 411.6,433.16 C411.85,432.18 412.1,431.2 412.37,430.22 C412.64,429.24 412.93,428.26 413.24,427.29 C413.54,426.31 413.86,425.34 414.21,424.37 C414.56,423.4 414.93,422.43 415.32,421.47 C415.71,420.5 416.13,419.54 416.58,418.58 C417.02,417.62 417.49,416.67 418,415.71 C418.5,414.76 419.03,413.8 419.6,412.86 C420.17,411.92 420.77,410.96 421.4,410.06 C422.03,409.16 422.69,408.27 423.38,407.48 C424.08,406.68 424.8,405.93 425.55,405.3 C426.3,404.68 427.07,404.12 427.87,403.73 C428.68,403.33 429.51,403.05 430.36,402.94 C431.2,402.84 432.09,402.92 432.97,403.11 C433.86,403.3 434.77,403.68 435.66,404.09 C436.56,404.5 437.46,405.05 438.34,405.58 C439.21,406.12 440.08,406.72 440.92,407.31 C441.76,407.91 442.58,408.52 443.38,409.16 C444.17,409.79 444.95,410.44 445.71,411.11 C446.47,411.78 447.21,412.47 447.93,413.17 C448.66,413.88 449.36,414.6 450.05,415.33 C450.73,416.07 451.4,416.82 452.06,417.58 C452.71,418.35 453.35,419.13 453.97,419.93 C454.59,420.72 455.19,421.53 455.79,422.35 C456.38,423.17 456.95,424 457.52,424.85 C458.08,425.69 458.63,426.55 459.17,427.42 C459.71,428.29 460.23,429.17 460.74,430.06 C461.26,430.95 461.76,431.85 462.25,432.75 C462.74,433.66 463.22,434.58 463.69,435.51 C464.16,436.43 464.62,437.36 465.07,438.31 C465.52,439.25 465.96,440.2 466.39,441.15 C466.83,442.1 467.25,443.06 467.67,444.03 C468.09,445 468.5,445.97 468.9,446.94 C469.3,447.92 469.69,448.9 470.08,449.88 C470.46,450.87 470.84,451.86 471.21,452.85 C471.59,453.84 471.95,454.83 472.31,455.82 C472.67,456.82 473.02,457.81 473.36,458.81 C473.71,459.81 474.05,460.8 474.38,461.8 C474.71,462.8 475.04,463.8 475.36,464.79 C475.69,465.79 476,466.78 476.31,467.77 C476.62,468.77 476.93,469.76 477.23,470.75 C477.53,471.73 477.83,472.72 478.12,473.7 C478.41,474.68 478.7,475.66 478.98,476.63 C479.26,477.6 479.54,478.57 479.82,479.53 C480.09,480.49 480.36,481.45 480.63,482.39 C480.9,483.34 481.16,484.29 481.42,485.22 C481.69,486.15 482.07,487.54 482.2,488" fill="none" stroke="#f0f" stroke-width="1.5" stroke-linecap="butt" stroke-linejoin="round"/>
<path d="M398.6,524.4 C398.58,523.9 398.53,522.42 398.5,521.42 C398.48,520.43 398.47,519.43 398.47,518.44 C398.47,517.44 398.47,516.44 398.49,515.44 C398.51,514.44 398.53,513.44 398.57,512.44 C398.6,511.44 398.65,510.44 398.7,509.43 C398.75,508.43 398.81,507.43 398.88,506.42 C398.94,505.41 399.02,504.41 399.1,503.4 C399.19,502.39 399.28,501.38 399.38,500.38 C399.47,499.37 399.58,498.36 399.69,497.35 C399.8,496.34 399.92,495.33 400.04,494.32 C400.17,493.31 400.3,492.29 400.44,491.28 C400.57,490.27 400.72,489.26 400.87,488.25 C401.01,487.23 401.17,486.22 401.33,485.21 C401.49,484.2 401.65,483.18 401.82,482.17 C401.99,481.16 402.16,480.14 402.34,479.13 C402.52,478.12 402.7,477.11 402.88,476.09 C403.07,475.08 403.26,474.07 403.45,473.06 C403.64,472.05 403.84,471.03 404.04,470.02 C404.24,469.01 404.44,468 404.65,466.99 C404.85,465.98 405.06,464.97 405.27,463.96 C405.48,462.95 405.69,461.94 405.91,460.94 C406.12,459.93 406.34,458.92 406.56,457.92 C406.77,456.91 406.99,455.9 407.21,454.9 C407.43,453.9 407.65,452.89 407.88,451.89 C408.1,450.89 408.32,449.89 408.54,448.89 C408.76,447.89 408.99,446.89 409.21,445.89 C409.43,444.89 409.65,443.9 409.87,442.9 C410.1,441.91 410.32,440.91 410.54,439.92 C410.76,438.93 410.98,437.94 411.19,436.95 C411.41,435.96 411.63,434.98 411.84,433.99 C412.06,433.01 412.27,432.02 412.48,431.04 C412.69,430.06 412.89,429.08 413.1,428.1 C413.31,427.12 413.51,426.15 413.72,425.17 C413.92,424.2 414.13,423.23 414.34,422.26 C414.56,421.29 414.77,420.32 415,419.36 C415.22,418.39 415.46,417.43 415.7,416.47 C415.95,415.51 416.2,414.55 416.47,413.59 C416.75,412.64 417.03,411.68 417.33,410.73 C417.64,409.78 417.96,408.84 418.3,407.89 C418.65,406.95 419.01,406 419.4,405.06 C419.79,404.12 420.2,403.19 420.64,402.25 C421.08,401.32 421.54,400.39 422.04,399.46 C422.54,398.53 423.07,397.6 423.63,396.69 C424.19,395.77 424.79,394.86 425.41,393.98 C426.03,393.1 426.69,392.23 427.37,391.42 C428.05,390.6 428.76,389.81 429.5,389.09 C430.23,388.37 431,387.69 431.79,387.09 C432.57,386.49 433.39,385.94 434.22,385.5 C435.06,385.05 435.92,384.67 436.8,384.4 C437.68,384.13 438.58,383.97 439.5,383.87 C440.41,383.78 441.35,383.79 442.28,383.85 C443.22,383.91 444.17,384.06 445.12,384.24 C446.06,384.43 447.02,384.68 447.95,384.96 C448.89,385.24 449.83,385.56 450.75,385.91 C451.68,386.26 452.59,386.63 453.49,387.04 C454.39,387.44 455.28,387.87 456.16,388.32 C457.04,388.78 457.91,389.26 458.76,389.77 C459.62,390.27 460.47,390.8 461.3,391.35 C462.14,391.91 462.96,392.48 463.78,393.08 C464.59,393.67 465.39,394.29 466.18,394.93 C466.97,395.57 467.75,396.23 468.52,396.9 C469.29,397.58 470.05,398.27 470.8,398.98 C471.54,399.69 472.28,400.42 473,401.16 C473.73,401.9 474.44,402.66 475.14,403.44 C475.85,404.21 476.54,404.99 477.22,405.79 C477.9,406.59 478.57,407.4 479.22,408.22 C479.88,409.04 480.53,409.88 481.16,410.72 C481.8,411.56 482.42,412.41 483.03,413.27 C483.64,414.13 484.25,415 484.83,415.87 C485.42,416.74 486,417.63 486.57,418.51 C487.14,419.4 487.69,420.29 488.24,421.18 C488.78,422.07 489.31,422.97 489.83,423.87 C490.36,424.77 490.87,425.67 491.36,426.57 C491.86,427.47 492.35,428.38 492.82,429.28 C493.3,430.18 493.76,431.08 494.22,431.98 C494.67,432.88 495.11,433.78 495.55,434.69 C495.98,435.59 496.4,436.49 496.82,437.39 C497.23,438.3 497.64,439.2 498.04,440.11 C498.43,441.01 498.82,441.92 499.2,442.83 C499.58,443.74 499.96,444.65 500.32,445.56 C500.69,446.47 501.05,447.38 501.4,448.3 C501.76,449.22 502.1,450.14 502.45,451.06 C502.79,451.98 503.12,452.91 503.46,453.84 C503.79,454.76 504.11,455.7 504.44,456.63 C504.76,457.57 505.08,458.51 505.4,459.45 C505.71,460.39 506.02,461.34 506.33,462.29 C506.64,463.24 506.95,464.2 507.26,465.16 C507.56,466.12 507.87,467.09 508.17,468.06 C508.47,469.03 508.77,470.01 509.08,470.99 C509.38,471.97 509.68,472.96 509.98,473.96 C510.28,474.95 510.58,475.95 510.89,476.96 C511.19,477.97 511.65,479.49 511.8,480" fill="none" stroke="#008000" stroke-width="1.4" stroke-linecap="butt" stroke-linejoin="round"/>
<path d="M398.6,524.4 C398.63,523.9 398.74,522.42 398.81,521.43 C398.88,520.43 398.95,519.44 399.02,518.44 C399.09,517.45 399.17,516.45 399.25,515.46 C399.32,514.46 399.4,513.46 399.48,512.47 C399.56,511.47 399.65,510.47 399.73,509.47 C399.82,508.47 399.9,507.47 399.99,506.47 C400.08,505.47 400.17,504.47 400.26,503.46 C400.36,502.46 400.45,501.46 400.55,500.46 C400.65,499.45 400.75,498.45 400.85,497.45 C400.95,496.44 401.06,495.44 401.17,494.43 C401.27,493.43 401.38,492.42 401.49,491.42 C401.61,490.41 401.72,489.41 401.84,488.4 C401.96,487.39 402.08,486.39 402.2,485.38 C402.32,484.38 402.45,483.37 402.58,482.36 C402.7,481.36 402.84,480.35 402.97,479.34 C403.1,478.34 403.24,477.33 403.38,476.32 C403.52,475.32 403.66,474.31 403.81,473.3 C403.95,472.3 404.1,471.29 404.26,470.29 C404.41,469.28 404.56,468.28 404.72,467.27 C404.88,466.27 405.04,465.26 405.21,464.26 C405.37,463.25 405.54,462.25 405.71,461.24 C405.89,460.24 406.06,459.24 406.24,458.23 C406.42,457.23 406.6,456.23 406.79,455.23 C406.97,454.23 407.16,453.23 407.36,452.23 C407.55,451.23 407.75,450.23 407.95,449.23 C408.15,448.23 408.35,447.23 408.56,446.23 C408.77,445.24 408.98,444.24 409.2,443.25 C409.41,442.25 409.63,441.26 409.86,440.26 C410.08,439.27 410.31,438.28 410.54,437.28 C410.77,436.29 411.01,435.3 411.25,434.31 C411.49,433.32 411.74,432.34 411.99,431.35 C412.24,430.36 412.49,429.38 412.75,428.39 C413.01,427.41 413.27,426.42 413.53,425.44 C413.8,424.46 414.07,423.48 414.35,422.5 C414.62,421.52 414.9,420.54 415.19,419.57 C415.47,418.59 415.76,417.62 416.06,416.64 C416.35,415.67 416.65,414.7 416.96,413.73 C417.26,412.76 417.57,411.79 417.88,410.82 C418.2,409.86 418.51,408.89 418.84,407.93 C419.16,406.96 419.49,406 419.82,405.04 C420.16,404.08 420.5,403.13 420.84,402.17 C421.19,401.21 421.53,400.26 421.89,399.31 C422.24,398.36 422.6,397.41 422.97,396.46 C423.33,395.51 423.7,394.57 424.08,393.62 C424.46,392.68 424.84,391.74 425.24,390.81 C425.64,389.88 426.04,388.96 426.46,388.04 C426.87,387.13 427.3,386.22 427.74,385.33 C428.19,384.43 428.64,383.54 429.12,382.67 C429.59,381.8 430.08,380.94 430.59,380.1 C431.1,379.26 431.62,378.43 432.17,377.62 C432.72,376.81 433.29,376.02 433.88,375.25 C434.48,374.48 435.09,373.73 435.73,373 C436.37,372.27 437.04,371.56 437.73,370.88 C438.43,370.2 439.15,369.54 439.9,368.92 C440.65,368.29 441.43,367.68 442.25,367.11 C443.06,366.54 444.02,365.93 444.79,365.48 C445.55,365.03 446.49,364.57 446.83,364.39 Q450.5,362.8 454.45,363.44 C454.82,363.51 455.8,363.68 456.68,363.85 C457.57,364.02 458.73,364.25 459.74,364.46 C460.75,364.67 461.76,364.9 462.77,365.13 C463.77,365.37 464.77,365.61 465.77,365.86 C466.76,366.12 467.75,366.38 468.74,366.65 C469.72,366.92 470.7,367.21 471.68,367.5 C472.66,367.79 473.63,368.09 474.6,368.4 C475.56,368.71 476.53,369.03 477.48,369.36 C478.44,369.69 479.39,370.03 480.34,370.38 C481.29,370.73 482.23,371.09 483.17,371.46 C484.11,371.83 485.04,372.2 485.97,372.59 C486.89,372.98 487.81,373.37 488.73,373.78 C489.65,374.19 490.56,374.6 491.47,375.02 C492.37,375.45 493.27,375.88 494.17,376.32 C495.07,376.77 495.96,377.22 496.84,377.68 C497.73,378.14 498.61,378.61 499.48,379.09 C500.35,379.57 501.22,380.06 502.09,380.56 C502.95,381.05 503.81,381.56 504.66,382.07 C505.51,382.59 506.35,383.11 507.19,383.65 C508.03,384.18 508.87,384.72 509.7,385.28 C510.53,385.83 511.35,386.39 512.17,386.96 C512.98,387.53 513.79,388.1 514.6,388.69 C515.4,389.28 516.2,389.87 517,390.48 C517.79,391.08 518.58,391.7 519.36,392.32 C520.14,392.94 520.91,393.57 521.68,394.21 C522.45,394.85 523.21,395.5 523.97,396.16 C524.72,396.81 525.47,397.48 526.22,398.15 C526.96,398.83 527.7,399.51 528.43,400.2 C529.16,400.89 529.88,401.59 530.6,402.29 C531.32,403 532.03,403.72 532.74,404.44 C533.44,405.16 534.14,405.89 534.83,406.63 C535.53,407.37 536.21,408.11 536.89,408.86 C537.57,409.62 538.24,410.37 538.91,411.14 C539.58,411.91 540.24,412.68 540.89,413.46 C541.54,414.24 542.19,415.03 542.83,415.82 C543.47,416.61 544.1,417.41 544.73,418.22 C545.36,419.03 545.98,419.84 546.59,420.66 C547.2,421.48 547.81,422.3 548.41,423.13 C549.01,423.96 549.61,424.8 550.19,425.64 C550.78,426.48 551.36,427.32 551.93,428.18 C552.51,429.03 553.07,429.89 553.63,430.75 C554.19,431.61 554.75,432.48 555.29,433.35 C555.84,434.22 556.38,435.1 556.91,435.98 C557.45,436.86 557.97,437.74 558.49,438.63 C559.01,439.52 559.52,440.42 560.03,441.32 C560.53,442.21 561.03,443.12 561.52,444.02 C562.02,444.93 562.5,445.84 562.98,446.75 C563.46,447.67 563.93,448.58 564.39,449.5 C564.85,450.42 565.31,451.35 565.76,452.27 C566.21,453.2 566.65,454.13 567.09,455.06 C567.52,455.99 567.95,456.93 568.37,457.86 C568.8,458.8 569.21,459.74 569.62,460.68 C570.03,461.62 570.43,462.57 570.82,463.52 C571.21,464.46 571.6,465.41 571.98,466.36 C572.36,467.31 572.73,468.26 573.09,469.22 C573.46,470.17 573.81,471.13 574.16,472.08 C574.51,473.04 574.86,474 575.19,474.96 C575.53,475.91 575.86,476.87 576.18,477.83 C576.5,478.79 576.81,479.76 577.12,480.72 C577.42,481.68 577.72,482.64 578.01,483.61 C578.31,484.57 578.59,485.53 578.87,486.49 C579.14,487.46 579.41,488.42 579.67,489.38 C579.94,490.35 580.19,491.31 580.44,492.27 C580.69,493.24 580.98,494.44 581.16,495.16 C581.33,495.88 581.44,496.36 581.5,496.6" fill="none" stroke="#000080" stroke-width="1.4" stroke-linecap="butt" stroke-linejoin="round"/>
</g>
<rect x="398.6" y="312.9" width="274.4" height="211.5" fill="none" stroke="#444" stroke-width="1"/>
<path d="M398.6,524.4 v-4.7 M421.47,524.4 v-2.8 M444.33,524.4 v-4.7 M467.2,524.4 v-2.8 M490.07,524.4 v-4.7 M512.93,524.4 v-2.8 M535.8,524.4 v-4.7 M558.67,524.4 v-2.8 M581.53,524.4 v-4.7 M604.4,524.4 v-2.8 M627.27,524.4 v-4.7 M650.13,524.4 v-2.8 M673,524.4 v-4.7 M398.6,524.4 h4.7 M398.6,509.29 h2.8 M398.6,494.19 h4.7 M398.6,479.08 h2.8 M398.6,463.97 h4.7 M398.6,448.86 h2.8 M398.6,433.76 h4.7 M398.6,418.65 h2.8 M398.6,403.54 h4.7 M398.6,388.44 h2.8 M398.6,373.33 h4.7 M398.6,358.22 h2.8 M398.6,343.11 h4.7 M398.6,328.01 h2.8 M398.6,312.9 h4.7" stroke="#444" stroke-width="0.9" fill="none"/>
<g font-size="10.2" fill="#000">
<text x="398.6" y="537.3" text-anchor="middle">0</text>
<text x="444.33" y="537.3" text-anchor="middle">2</text>
<text x="490.07" y="537.3" text-anchor="middle">4</text>
<text x="535.8" y="537.3" text-anchor="middle">6</text>
<text x="581.53" y="537.3" text-anchor="middle">8</text>
<text x="627.27" y="537.3" text-anchor="middle">10</text>
<text x="673" y="537.3" text-anchor="middle">12</text>
<text x="393.6" y="527.8" text-anchor="end">0</text>
<text x="393.6" y="497.59" text-anchor="end">5</text>
<text x="393.6" y="467.37" text-anchor="end">10</text>
<text x="393.6" y="437.16" text-anchor="end">15</text>
<text x="393.6" y="406.94" text-anchor="end">20</text>
<text x="393.6" y="376.73" text-anchor="end">25</text>
<text x="393.6" y="346.51" text-anchor="end">30</text>
<text x="393.6" y="316.3" text-anchor="end">35</text>
</g>
<text x="535.6" y="563.6" font-size="18.75" text-anchor="middle">Strain <tspan font-family='"Liberation Serif", "Times New Roman", serif' font-size="19.69">ε</tspan>,%</text>
<text transform="translate(366,412.7) rotate(-90)" font-size="17.85" text-anchor="middle">Stress σ,MPa</text>
<text x="544.8" y="604.6" font-size="20.1" font-family='"Liberation Serif", "Times New Roman", serif' text-anchor="middle">(d) -28 °C</text>
<g fill="#000">
<rect x="554.18" y="326.28" width="7.04" height="7.04" fill="#fff" stroke="#000" stroke-width="0.85"/>
<text x="573.3" y="333.84" font-size="11.5">400 s<tspan dy="-5.06" font-size="6.67">-1</tspan><tspan dy="5.06"> Experiment</tspan></text>
<circle cx="557.7" cy="344.8" r="4.17" fill="#fff" stroke="#f00" stroke-width="0.85"/>
<text x="573.3" y="348.84" font-size="11.5">520 s<tspan dy="-5.06" font-size="6.67">-1</tspan><tspan dy="5.06"> Experiment</tspan></text>
<path d="M557.7,355.3 L562.62,363.75 L552.78,363.75 Z" fill="#fff" stroke="#00f" stroke-width="0.85" stroke-linejoin="miter"/>
<text x="573.3" y="363.94" font-size="11.5">838 s<tspan dy="-5.06" font-size="6.67">-1</tspan><tspan dy="5.06"> Experiment</tspan></text>
<path d="M544.4,375.4 H570.3" stroke="#f0f" stroke-width="1.25"/>
<text x="573.3" y="379.04" font-size="11.5">400 s<tspan dy="-5.06" font-size="6.67">-1</tspan><tspan dy="5.06"> Model</tspan></text>
<path d="M544.4,391 H570.3" stroke="#008000" stroke-width="1.25"/>
<text x="573.3" y="394.64" font-size="11.5">520 s<tspan dy="-5.06" font-size="6.67">-1</tspan><tspan dy="5.06"> Model</tspan></text>
<path d="M544.4,406.3 H570.3" stroke="#000080" stroke-width="1.25"/>
<text x="573.3" y="409.94" font-size="11.5">838 s<tspan dy="-5.06" font-size="6.67">-1</tspan><tspan dy="5.06"> Model</tspan></text>
</g>
</svg>
</body></html>
